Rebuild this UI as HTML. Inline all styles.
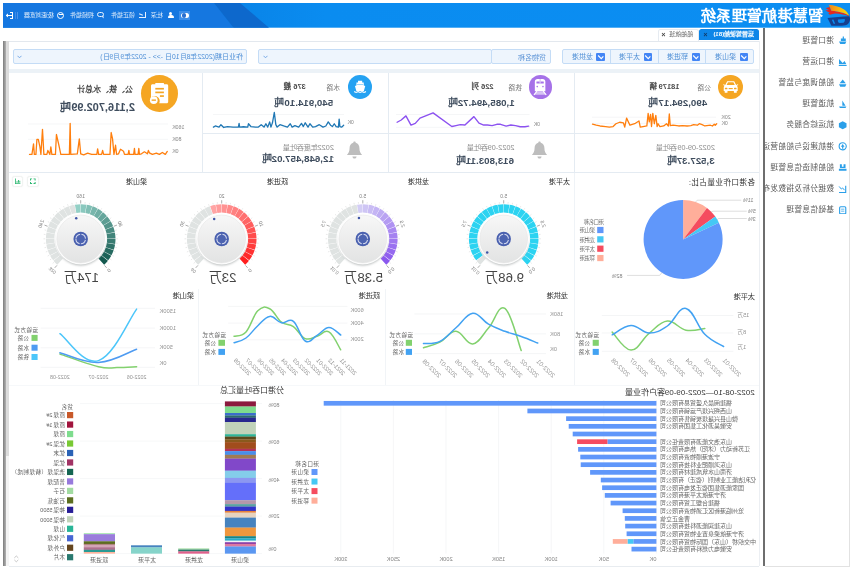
<!DOCTYPE html>
<html lang="zh-CN">
<head>
<meta charset="utf-8">
<title>智慧港航管理系统</title>
<style>
html,body{margin:0;padding:0;background:#fff;}
body{width:854px;height:574px;overflow:hidden;font-family:"Liberation Sans", sans-serif;}
#root{position:relative;width:854px;height:574px;overflow:hidden;background:#fff;transform:scaleX(-1);transform-origin:50% 50%;font-family:"Liberation Sans", sans-serif;filter:blur(0.5px);}
#root div{box-sizing:border-box;}
#charts{position:absolute;left:0;top:0;width:854px;height:574px;}
#charts text{font-family:"Liberation Sans", sans-serif;}
</style>
</head>
<body>
<div id="root">
<div style="position:absolute;left:4px;top:3px;width:847px;height:24.7px;overflow:hidden;"><svg width="847" height="24.7" style="position:absolute;left:0;top:0"><defs><linearGradient id="hg" x1="0" y1="0" x2="1" y2="0"><stop offset="0" stop-color="#0b8ef2"/><stop offset="0.62" stop-color="#0a8cf0"/><stop offset="0.71" stop-color="#0985e9"/></linearGradient></defs><rect width="847" height="24.7" fill="url(#hg)"/><polygon points="847,0 636,0 616.5,24.7 847,24.7" fill="#1577e0"/><polygon points="636,0 610,0 581,24.7 616.5,24.7" fill="#0d68cc"/></svg></div>
<div style="position:absolute;left:0px;top:2px;width:34px;height:26px;"><svg viewBox="0 0 751 574" width="34" height="26" style="display:block;transform:scaleX(-1)"><defs><linearGradient id="lg1" x1="0" y1="0" x2="1" y2="0"><stop offset="0" stop-color="#f0821c"/><stop offset="0.55" stop-color="#fab812"/><stop offset="1" stop-color="#ffd800"/></linearGradient></defs><path d="M128 140 L212 112 L250 195 C330 198 480 222 640 297 L652 318 C560 278 450 260 330 252 L215 284 L178 244 L218 238 L118 186 L196 174 Z" fill="#e32a1f"/><path d="M190 62 C300 70 430 100 540 170 C590 205 625 250 640 297 C580 255 480 222 380 207 C330 200 290 197 250 195 L225 125 Z" fill="url(#lg1)"/><path d="M165 352 C300 336 500 318 648 312 C676 362 668 432 622 482 C592 514 540 524 480 524 L252 524 Z" fill="#153f8e"/><path d="M400 384 L545 378 C556 410 545 444 520 458 L430 462 C395 452 385 415 400 384 Z" fill="#0b8cf0"/><path d="M262 392 L296 388 L336 478 L300 480 Z" fill="#0b8cf0"/><path d="M318 386 L372 382 C372 420 380 450 400 474 L352 478 Z" fill="#0b8cf0" opacity="0.0"/></svg></div>
<div style="position:absolute;top:6.9px;line-height:18px;font-size:15.3px;color:#fff;white-space:nowrap;font-weight:bold;left:30.8px;letter-spacing:0.3px;">智慧港航管理系统</div>
<div style="position:absolute;left:663.5px;top:11px;width:11.5px;height:9px;background:#3c8eea;"></div>
<div style="position:absolute;left:665.4px;top:12.6px;width:7.4px;height:5.8px;background:#fff;border-radius:3px;"></div>
<div style="position:absolute;left:668.1px;top:13.4px;width:4px;height:4.2px;background:#2a6fd0;border-radius:50%;"></div>
<div style="position:absolute;left:681.8px;top:11.9px;width:3px;height:3px;background:#fff;border-radius:50%;"></div>
<div style="position:absolute;left:680.4px;top:14.6px;width:6px;height:3.8px;background:#fff;border-radius:3px 3px 0.5px 0.5px;"></div>
<div style="position:absolute;top:11.3px;line-height:8px;font-size:6px;color:rgba(255,255,255,0.86);white-space:nowrap;left:690.6px;">杜深</div>
<div style="position:absolute;left:708px;top:12px;width:7px;height:6.4px;border-left:1px solid #e8f2ff;border-bottom:1px solid #e8f2ff;"><div style="position:absolute;left:1.5px;top:2.2px;width:4.2px;height:1px;background:#e8f2ff;transform:rotate(-22deg)"></div></div>
<div style="position:absolute;top:11.3px;line-height:8px;font-size:6px;color:rgba(255,255,255,0.86);white-space:nowrap;left:718.8px;">领正插件</div>
<div style="position:absolute;left:749.8px;top:12px;width:7px;height:5px;border:1px solid #e8f2ff;border-radius:2.5px;"></div>
<div style="position:absolute;left:750.4px;top:16.2px;width:2px;height:2.4px;background:#e8f2ff;clip-path:polygon(0 0,100% 0,0 100%);"></div>
<div style="position:absolute;top:11.3px;line-height:8px;font-size:6px;color:rgba(255,255,255,0.86);white-space:nowrap;left:759.6px;">视频插件</div>
<div style="position:absolute;left:790px;top:11.7px;width:7px;height:7px;border:1.6px solid #fff;border-radius:50%;"><div style="position:absolute;left:0.4px;top:1.3px;width:3.4px;height:1.2px;background:#fff"></div></div>
<div style="position:absolute;top:11.25px;line-height:8.1px;font-size:6.1px;color:rgba(255,255,255,0.86);white-space:nowrap;left:800px;">极速浏览器</div>
<div style="position:absolute;left:835.6px;top:12px;width:0.9px;height:6.8px;background:#4b92e8;"></div>
<div style="position:absolute;left:837.5px;top:12px;width:0.9px;height:6.8px;background:#3f8ae6;"></div>
<div style="position:absolute;left:840.8px;top:11.9px;width:3.2px;height:7px;border:1.1px solid #fff;border-right:none;"></div>
<div style="position:absolute;left:842.4px;top:14.9px;width:4px;height:1.1px;background:#fff;"></div>
<div style="position:absolute;left:845.6px;top:13.1px;width:2.8px;height:4.6px;background:#fff;clip-path:polygon(0 0,100% 50%,0 100%);"></div>
<div style="position:absolute;left:88.7px;top:27.7px;width:2.2px;height:538.5px;background:#6e6e6e;"></div>
<div style="position:absolute;left:4.2px;top:27.7px;width:84.5px;height:538.9px;border-left:1px solid #e2e2e2;border-bottom:1px solid #e2e2e2;"></div>
<div style="position:absolute;left:7.4px;top:36.4px;width:8.6px;height:8.6px;"><svg viewBox="0 0 7 7" width="8.6" height="8.6" fill="#2a9fe9" style="display:block"><path d="M1 2 h4 v2 h-4z M0.5 4.5 h6 l-1 2 h-4z M2.5 0.5 h1 v1.5 h-1z"/></svg></div>
<div style="position:absolute;left:20px;top:34.7px;width:68.5px;height:12px;overflow:hidden;"><div style="position:absolute;left:0;top:0;line-height:12px;font-size:7.7px;color:#5a5a5a;white-space:nowrap">港口管理</div></div>
<div style="position:absolute;left:7.4px;top:57.56px;width:8.6px;height:8.6px;"><svg viewBox="0 0 7 7" width="8.6" height="8.6" fill="#2a9fe9" style="display:block"><path d="M0.5 5 L2 2.5 L3.5 4 L6.5 0.8 V5z M0.3 5.6 h6.4 v1 h-6.4z"/></svg></div>
<div style="position:absolute;left:20px;top:55.86px;width:68.5px;height:12px;overflow:hidden;"><div style="position:absolute;left:0;top:0;line-height:12px;font-size:7.7px;color:#5a5a5a;white-space:nowrap">港口运营</div></div>
<div style="position:absolute;left:7.4px;top:78.72px;width:8.6px;height:8.6px;"><svg viewBox="0 0 7 7" width="8.6" height="8.6" fill="#2a9fe9" style="display:block"><path d="M3.5 0.5 L6 3.5 H1z M0.5 4.2 h6 l-1 2.2 h-4z"/></svg></div>
<div style="position:absolute;left:20px;top:77.02px;width:68.5px;height:12px;overflow:hidden;"><div style="position:absolute;left:0;top:0;line-height:12px;font-size:7.7px;color:#5a5a5a;white-space:nowrap">船舶调度与监管</div></div>
<div style="position:absolute;left:7.4px;top:99.88px;width:8.6px;height:8.6px;"><svg viewBox="0 0 7 7" width="8.6" height="8.6" fill="#2a9fe9" style="display:block"><path d="M3.8 0.5 V4.6 H1.2z M0.5 5.2 h6 l-0.8 1.5 h-4.4z"/></svg></div>
<div style="position:absolute;left:20px;top:98.18px;width:68.5px;height:12px;overflow:hidden;"><div style="position:absolute;left:0;top:0;line-height:12px;font-size:7.7px;color:#5a5a5a;white-space:nowrap">航道管理</div></div>
<div style="position:absolute;left:7.4px;top:121.04px;width:8.6px;height:8.6px;"><svg viewBox="0 0 7 7" width="8.6" height="8.6" fill="#2a9fe9" style="display:block"><path d="M3.5 0.3 L6.6 1.9 V5.1 L3.5 6.7 L0.4 5.1 V1.9z"/></svg></div>
<div style="position:absolute;left:20px;top:119.34px;width:68.5px;height:12px;overflow:hidden;"><div style="position:absolute;left:0;top:0;line-height:12px;font-size:7.7px;color:#5a5a5a;white-space:nowrap">航运综合服务</div></div>
<div style="position:absolute;left:7.4px;top:142.2px;width:8.6px;height:8.6px;"><svg viewBox="0 0 7 7" width="8.6" height="8.6" fill="#2a9fe9" style="display:block"><circle cx="3.5" cy="3.5" r="2.9" fill="none" stroke="#2a9fe9" stroke-width="0.9"/><path d="M3.5 1.6 L5 3.9 H2z M3 3.8 h1 v1.6 h-1z"/></svg></div>
<div style="position:absolute;left:20px;top:140.5px;width:68.5px;height:12px;overflow:hidden;"><div style="position:absolute;left:0;top:0;line-height:12px;font-size:7.7px;color:#5a5a5a;white-space:nowrap">港航建设与船舶营运</div></div>
<div style="position:absolute;left:7.4px;top:163.36px;width:8.6px;height:8.6px;"><svg viewBox="0 0 7 7" width="8.6" height="8.6" fill="#2a9fe9" style="display:block"><path d="M1.2 1 h1.6 v2 h1.4 v-2 h1.6 v3 h-4.6z M0.4 4.6 h6.2 v1.8 h-6.2z"/></svg></div>
<div style="position:absolute;left:20px;top:161.66px;width:68.5px;height:12px;overflow:hidden;"><div style="position:absolute;left:0;top:0;line-height:12px;font-size:7.7px;color:#5a5a5a;white-space:nowrap">船舶制造信息管理</div></div>
<div style="position:absolute;left:7.4px;top:184.52px;width:8.6px;height:8.6px;"><svg viewBox="0 0 7 7" width="8.6" height="8.6" fill="#2a9fe9" style="display:block"><path d="M0.6 0.6 h0.9 v5 h5 v0.9 h-5.9z" /><path d="M2 4.2 L3.6 2.4 L4.6 3.3 L6.4 1.2" fill="none" stroke="#2a9fe9" stroke-width="0.8"/></svg></div>
<div style="position:absolute;left:20px;top:182.82px;width:68.5px;height:12px;overflow:hidden;"><div style="position:absolute;left:0;top:0;line-height:12px;font-size:7.7px;color:#5a5a5a;white-space:nowrap">数据分析及指数发布</div></div>
<div style="position:absolute;left:7.4px;top:205.68px;width:8.6px;height:8.6px;"><svg viewBox="0 0 7 7" width="8.6" height="8.6" fill="#2a9fe9" style="display:block"><rect x="1" y="0.6" width="5" height="5.8" rx="0.8" fill="none" stroke="#2a9fe9" stroke-width="0.9"/><path d="M2.2 2.2 h2.6 v0.7 h-2.6z M2.2 3.8 h2.6 v0.7 h-2.6z"/></svg></div>
<div style="position:absolute;left:20px;top:203.98px;width:68.5px;height:12px;overflow:hidden;"><div style="position:absolute;left:0;top:0;line-height:12px;font-size:7.7px;color:#5a5a5a;white-space:nowrap">基础信息管理</div></div>
<div style="position:absolute;left:94.2px;top:40.6px;width:751.3px;height:0.8px;background:#e3e8ee;"></div>
<div style="position:absolute;left:94px;top:41px;width:0.8px;height:525px;background:#eceff3;"></div>
<div style="position:absolute;left:848.4px;top:41.2px;width:2.6px;height:524.8px;background:linear-gradient(to left,#7c7c7c,#b4b4b4);"></div>
<div style="position:absolute;left:845.4px;top:41.2px;width:3px;height:414.8px;background:#dcdcdc;"></div>
<div style="position:absolute;left:845.4px;top:456px;width:3px;height:110px;background:#f4f4f4;"></div>
<div style="position:absolute;left:95.1px;top:28.9px;width:59.7px;height:11.3px;background:#0e86e8;border-radius:2.5px 2.5px 0 0;"></div>
<div style="position:absolute;top:30.35px;line-height:8.1px;font-size:6.1px;color:#fff;white-space:nowrap;font-weight:bold;left:99.8px;">运营驾驶舱(81)</div>
<div style="position:absolute;top:29.9px;line-height:9px;font-size:7px;color:#123a66;white-space:nowrap;font-weight:bold;left:146.4px;">×</div>
<div style="position:absolute;left:154.8px;top:29.2px;width:41.5px;height:11.8px;border:1px solid #e6ebf1;border-bottom:none;border-radius:2.5px 2.5px 0 0;background:#fff;"></div>
<div style="position:absolute;top:30.65px;line-height:7.9px;font-size:5.9px;color:#666;white-space:nowrap;left:160.6px;">船舶航班</div>
<div style="position:absolute;top:30.1px;line-height:9px;font-size:7px;color:#444;white-space:nowrap;font-weight:bold;left:188.4px;">×</div>
<div style="position:absolute;left:100px;top:49.2px;width:191.5px;height:15.1px;background:#eef5fd;border:1px solid #c4dcf6;border-radius:2px;"></div>
<div style="position:absolute;left:105.9px;top:52.5px;width:8.3px;height:8.3px;background:#4385f5;border-radius:1px;"><svg viewBox="0 0 8 8" width="8.3" height="8.3" style="display:block"><path d="M1.6 3.2 L3.6 5.4 L6.6 2.4" fill="none" stroke="#fff" stroke-width="1.1"/></svg></div>
<div style="position:absolute;top:53.15px;line-height:8.9px;font-size:6.9px;color:#4f8fd6;white-space:nowrap;left:118px;">梁山港</div>
<div style="position:absolute;left:147.7px;top:49.2px;width:0.8px;height:15.1px;background:#c4dcf6;"></div>
<div style="position:absolute;left:154px;top:52.5px;width:8.3px;height:8.3px;background:#4385f5;border-radius:1px;"><svg viewBox="0 0 8 8" width="8.3" height="8.3" style="display:block"><path d="M1.6 3.2 L3.6 5.4 L6.6 2.4" fill="none" stroke="#fff" stroke-width="1.1"/></svg></div>
<div style="position:absolute;top:53.15px;line-height:8.9px;font-size:6.9px;color:#4f8fd6;white-space:nowrap;left:166.1px;">郓进港</div>
<div style="position:absolute;left:195.4px;top:49.2px;width:0.8px;height:15.1px;background:#c4dcf6;"></div>
<div style="position:absolute;left:201.7px;top:52.5px;width:8.3px;height:8.3px;background:#4385f5;border-radius:1px;"><svg viewBox="0 0 8 8" width="8.3" height="8.3" style="display:block"><path d="M1.6 3.2 L3.6 5.4 L6.6 2.4" fill="none" stroke="#fff" stroke-width="1.1"/></svg></div>
<div style="position:absolute;top:53.15px;line-height:8.9px;font-size:6.9px;color:#4f8fd6;white-space:nowrap;left:213.8px;">太平港</div>
<div style="position:absolute;left:243px;top:49.2px;width:0.8px;height:15.1px;background:#c4dcf6;"></div>
<div style="position:absolute;left:249.3px;top:52.5px;width:8.3px;height:8.3px;background:#4385f5;border-radius:1px;"><svg viewBox="0 0 8 8" width="8.3" height="8.3" style="display:block"><path d="M1.6 3.2 L3.6 5.4 L6.6 2.4" fill="none" stroke="#fff" stroke-width="1.1"/></svg></div>
<div style="position:absolute;top:53.15px;line-height:8.9px;font-size:6.9px;color:#4f8fd6;white-space:nowrap;left:261.4px;">龙拱港</div>
<div style="position:absolute;left:302.6px;top:49.2px;width:60.2px;height:15.1px;background:#eef5fd;border:1px solid #c4dcf6;border-radius:2px;"></div>
<div style="position:absolute;top:53.1px;line-height:9px;font-size:7px;color:#5b93d6;white-space:nowrap;left:307.6px;">货物名称</div>
<div style="position:absolute;left:362.4px;top:49.2px;width:233.2px;height:15.1px;background:#eef5fd;border:1px solid #c4dcf6;border-radius:2px;"></div>
<svg style="position:absolute;left:586px;top:55px" width="5" height="4" viewBox="0 0 5 4"><path d="M0.5 0.8 L2.5 2.8 L4.5 0.8" fill="none" stroke="#6aa2e4" stroke-width="0.9"/></svg>
<div style="position:absolute;left:606.8px;top:49.2px;width:233.8px;height:15.1px;background:#eef5fd;border:1px solid #c4dcf6;border-radius:2px;"></div>
<div style="position:absolute;top:53.05px;line-height:8.9px;font-size:6.9px;color:#4f8fd6;white-space:nowrap;left:611px;">作业日期(2022年8月10日 ->> - 2022年9月9日)</div>
<svg style="position:absolute;left:831.5px;top:55px" width="5" height="4" viewBox="0 0 5 4"><path d="M0.5 0.8 L2.5 2.8 L4.5 0.8" fill="none" stroke="#6aa2e4" stroke-width="0.9"/></svg>
<div style="position:absolute;left:94.6px;top:69.2px;width:750.8px;height:4px;background:#ecf2f7;"></div>
<div style="position:absolute;left:94.6px;top:133.3px;width:557px;height:0.8px;background:#e4ebf2;"></div>
<div style="position:absolute;left:94.6px;top:171.8px;width:750.8px;height:0.8px;background:#e4ebf2;"></div>
<div style="position:absolute;left:278.8px;top:73.2px;width:0.8px;height:99px;background:#e4ebf2;"></div>
<div style="position:absolute;left:464.9px;top:73.2px;width:0.8px;height:99px;background:#e4ebf2;"></div>
<div style="position:absolute;left:651.2px;top:73.2px;width:0.8px;height:99px;background:#e4ebf2;"></div>
<div style="position:absolute;left:111.1px;top:74.5px;width:24.6px;height:24.6px;background:#f5a623;border-radius:50%;"><svg viewBox="0 0 24 24" width="24.6" height="24.6" style="display:block" fill="#fff"><path fill-rule="evenodd" d="M8.6 6.1 h6.8 l1.900 3.600 l1.700 -0.700 l0.400 0.800 l-1.500 0.800 c0.600 0.400 0.900 1 0.900 1.700 v3.300 h-13.600 v-3.300 c0 -0.700 0.300 -1.300 0.900 -1.700 l-1.500 -0.800 l0.400 -0.800 l1.700 0.700z M9.300 7.100 l-1.300 2.600 h8 l-1.300 -2.600z"/><rect x="6.100" y="15.200" width="2.800" height="2.100" rx="0.500"/><rect x="15.100" y="15.200" width="2.800" height="2.100" rx="0.500"/><rect x="6.300" y="12.500" width="2.500" height="1.300" rx="0.500" fill="#f5a623"/><rect x="15.200" y="12.500" width="2.500" height="1.300" rx="0.500" fill="#f5a623"/><rect x="10" y="12.700" width="4" height="1.100" fill="#f5a623"/></svg></div>
<div style="position:absolute;top:84.2px;line-height:7px;font-size:6.7px;color:#7a7a7a;white-space:nowrap;left:143.4px;">公路</div>
<div style="position:absolute;top:82.3px;line-height:9px;font-size:7.5px;color:#4a4a4a;white-space:nowrap;font-weight:bold;left:174.5px;">18179 辆</div>
<div style="position:absolute;top:97.1px;line-height:11px;font-size:9.75px;color:#3f4d5e;white-space:nowrap;font-weight:bold;left:146.8px;">490,294.17吨</div>
<div style="position:absolute;top:143px;line-height:9px;font-size:7.35px;color:#8c8c8c;white-space:nowrap;left:139.1px;">2022-09-09吞吐量</div>
<div style="position:absolute;top:154.8px;line-height:11px;font-size:9.75px;color:#3f4d5e;white-space:nowrap;font-weight:bold;left:139.3px;">3,527.37吨</div>
<div style="position:absolute;left:301.7px;top:75.4px;width:23.8px;height:23.8px;background:#a672e8;border-radius:50%;"><svg viewBox="0 0 24 24" width="23.8" height="23.8" style="display:block" fill="#fff"><path d="M9.400 4 h5.200 c1.600 0 2.700 1.100 2.700 2.700 v9.600 h-10.600 v-9.600 c0 -1.600 1.100 -2.700 2.700 -2.700z"/><rect x="8.300" y="6.600" width="3.200" height="2" rx="0.300" fill="#a672e8"/><rect x="12.500" y="6.600" width="3.200" height="2" rx="0.300" fill="#a672e8"/><rect x="11.800" y="4" width="0.500" height="5" fill="#a672e8"/><circle cx="9.100" cy="11.700" r="0.800" fill="#a672e8"/><circle cx="14.900" cy="11.700" r="0.800" fill="#a672e8"/><polygon points="8.800,16.300 15.200,16.300 18,20 6,20" fill="#d6c2f4"/><path d="M8.900 16.300 L5.800 20 M15.100 16.300 L18.200 20" stroke="#fff" stroke-width="1.100" fill="none"/></svg></div>
<div style="position:absolute;top:84.2px;line-height:7px;font-size:6.7px;color:#7a7a7a;white-space:nowrap;left:332.3px;">铁路</div>
<div style="position:absolute;top:82.4px;line-height:9px;font-size:7.5px;color:#4a4a4a;white-space:nowrap;font-weight:bold;left:360.4px;">226 列</div>
<div style="position:absolute;top:96.5px;line-height:11px;font-size:9.75px;color:#3f4d5e;white-space:nowrap;font-weight:bold;left:339.3px;">1,085,494.72吨</div>
<div style="position:absolute;left:306.3px;top:141.2px;width:17px;height:18.9px;"><svg viewBox="0 0 18 20" width="17" height="18.900" style="display:block" fill="#bdbdbd"><path d="M9 0.600 c0.800 0 1.300 0.600 1.300 1.300 c2.600 0.700 3.900 2.900 3.900 5.600 c0 3.600 1 5.400 2.800 7.400 h-16 c1.800 -2 2.800 -3.800 2.800 -7.400 c0 -2.700 1.300 -4.900 3.900 -5.600 c0 -0.700 0.500 -1.300 1.300 -1.300z"/><path d="M6.800 16.400 h4.400 c0 1.300 -1 2.200 -2.200 2.200 s-2.200 -0.900 -2.200 -2.200z"/></svg></div>
<div style="position:absolute;top:143px;line-height:9px;font-size:7.35px;color:#8c8c8c;white-space:nowrap;left:339.4px;">2022-09吞吐量</div>
<div style="position:absolute;top:155px;line-height:11px;font-size:9.75px;color:#3f4d5e;white-space:nowrap;font-weight:bold;left:340px;">613,803.11吨</div>
<div style="position:absolute;left:482.4px;top:74.8px;width:23.8px;height:23.8px;background:#25a2f2;border-radius:50%;"><svg viewBox="0 0 24 24" width="23.8" height="23.8" style="display:block" fill="#fff"><path d="M9.900 5.800 h4.200 v1.700 h1.600 v3.100 l1.500 0.600 l-1.400 5 h-7.600 l-1.400 -5 l1.500 -0.600 v-3.100 h1.600z"/><rect x="8.900" y="9.400" width="6.200" height="0.700" fill="#6cc2f6"/><path d="M6 16.800 c1 0 1 0.700 2 0.700 s1 -0.700 2 -0.700 s1 0.700 2 0.700 s1 -0.700 2 -0.700 s1 0.700 2 0.700 s1 -0.700 2 -0.700" fill="none" stroke="#fff" stroke-width="1.100"/></svg></div>
<div style="position:absolute;top:84.2px;line-height:7px;font-size:6.7px;color:#7a7a7a;white-space:nowrap;left:513.8px;">水路</div>
<div style="position:absolute;top:82.4px;line-height:9px;font-size:7.5px;color:#4a4a4a;white-space:nowrap;font-weight:bold;left:548.2px;">376 艘</div>
<div style="position:absolute;top:97.1px;line-height:11px;font-size:9.75px;color:#3f4d5e;white-space:nowrap;font-weight:bold;left:520.8px;">540,914.10吨</div>
<div style="position:absolute;left:490.6px;top:141.2px;width:17px;height:18.9px;"><svg viewBox="0 0 18 20" width="17" height="18.900" style="display:block" fill="#bdbdbd"><path d="M9 0.600 c0.800 0 1.300 0.600 1.300 1.300 c2.600 0.700 3.900 2.900 3.900 5.600 c0 3.600 1 5.400 2.800 7.400 h-16 c1.800 -2 2.800 -3.800 2.800 -7.400 c0 -2.700 1.300 -4.900 3.900 -5.600 c0 -0.700 0.500 -1.300 1.300 -1.300z"/><path d="M6.800 16.400 h4.400 c0 1.300 -1 2.200 -2.200 2.200 s-2.200 -0.900 -2.200 -2.200z"/></svg></div>
<div style="position:absolute;top:143px;line-height:9px;font-size:7.35px;color:#8c8c8c;white-space:nowrap;left:520.1px;">2022年度吞吐量</div>
<div style="position:absolute;top:153.2px;line-height:11px;font-size:9.75px;color:#3f4d5e;white-space:nowrap;font-weight:bold;left:520.1px;">12,648,457.02吨</div>
<div style="position:absolute;left:676.1px;top:75.4px;width:36.8px;height:36.8px;background:#f5a623;border-radius:50%;"><svg viewBox="0 0 24 24" width="36.8" height="36.8" style="display:block;transform:scaleX(-1)" fill="#fff"><path d="M7.4 6 h1.8 v-0.8 h5.6 v0.8 h1.8 c0.600 0 1 0.400 1 1 v10.400 c0 0.600 -0.400 1 -1 1 h-4.800 c0.700 -1.600 0.200 -3.600 -1.600 -4.400 c-1.200 -0.500 -2.600 -0.300 -3.800 0.600 v-7.600 c0 -0.600 0.400 -1 1 -1z"/><rect x="9.2" y="8.400" width="5.6" height="1.100" fill="#f5a623"/><rect x="9.2" y="10.800" width="5.6" height="1.100" fill="#f5a623"/><rect x="12.200" y="13.200" width="2.600" height="1.100" fill="#f5a623"/><circle cx="8.200" cy="16.400" r="2.500"/><rect x="6.800" y="15.950" width="2.800" height="0.900" fill="#f5a623"/></svg></div>
<div style="position:absolute;top:84.8px;line-height:9px;font-size:7.9px;color:#444;white-space:nowrap;font-weight:bold;left:721px;">公、铁、水总计</div>
<div style="position:absolute;top:101.4px;line-height:12px;font-size:11px;color:#3f4d5e;white-space:nowrap;font-weight:bold;left:719.1px;">2,116,702.99吨</div>
<div style="position:absolute;left:278.8px;top:172.6px;width:0.8px;height:116.4px;background:#eff3f7;"></div>
<div style="position:absolute;top:177.5px;line-height:9.6px;font-size:7.6px;color:#333;white-space:nowrap;left:99.1px;">各港口作业量占比:</div>
<div style="position:absolute;top:177.3px;line-height:9px;font-size:7px;color:#2b2b2b;white-space:nowrap;left:283.8px;">太平港</div>
<div style="position:absolute;top:177.3px;line-height:9px;font-size:7px;color:#2b2b2b;white-space:nowrap;left:424.7px;">龙拱港</div>
<div style="position:absolute;top:177.3px;line-height:9px;font-size:7px;color:#2b2b2b;white-space:nowrap;left:565.8px;">跃进港</div>
<div style="position:absolute;top:177.3px;line-height:9px;font-size:7px;color:#2b2b2b;white-space:nowrap;left:706.8px;">梁山港</div>
<div style="position:absolute;left:830.6px;top:176px;width:11.6px;height:11.2px;border:1px solid #f1f3f1;border-radius:2.5px;background:#fff;box-shadow:0 0 1.5px rgba(0,0,0,0.06);"></div>
<div style="position:absolute;left:814.8px;top:176px;width:12px;height:11.2px;border:1px solid #f1f3f1;border-radius:2.5px;background:#fff;box-shadow:0 0 1.5px rgba(0,0,0,0.06);"></div>
<svg style="position:absolute;left:833.2px;top:178.400px;transform:scaleX(-1)" width="6.4" height="6.4" viewBox="0 0 8 8" fill="#2eb872"><path d="M0.5 0.5 h1 v6 h6 v1 h-7z M2.400 4 h1.200 v2 h-1.200z M4.200 2.600 h1.200 v3.400 h-1.200z M6 3.400 h1.200 v2.600 h-1.200z"/></svg>
<svg style="position:absolute;left:817.6px;top:178.400px" width="6.4" height="6.4" viewBox="0 0 8 8" fill="#2eb872"><path d="M0.5 0.5 h2.600 v1.200 h-1.400 v1.400 h-1.200z M7.500 0.500 v2.600 h-1.200 v-1.400 h-1.400 v-1.200z M0.500 7.500 v-2.600 h1.200 v1.400 h1.400 v1.200z M7.500 7.500 h-2.600 v-1.200 h1.400 v-1.400 h1.200z"/></svg>
<div style="position:absolute;left:278.8px;top:289.4px;width:0.8px;height:95.6px;background:#f1f4f7;"></div>
<div style="position:absolute;left:468.4px;top:289.4px;width:0.8px;height:95.6px;background:#f1f4f7;"></div>
<div style="position:absolute;left:655.2px;top:289.4px;width:0.8px;height:95.6px;background:#f1f4f7;"></div>
<div style="position:absolute;left:94.6px;top:385px;width:750.8px;height:0.8px;background:#f6f8fa;"></div>
<div style="position:absolute;top:292.2px;line-height:9.4px;font-size:7.4px;color:#333;white-space:nowrap;left:99.3px;">太平港</div>
<div style="position:absolute;top:291.3px;line-height:9.4px;font-size:7.4px;color:#333;white-space:nowrap;left:285.7px;">龙拱港</div>
<div style="position:absolute;top:291.3px;line-height:9.4px;font-size:7.4px;color:#333;white-space:nowrap;left:473.9px;">跃进港</div>
<div style="position:absolute;top:291.3px;line-height:9.4px;font-size:7.4px;color:#333;white-space:nowrap;left:659.6px;">梁山港</div>
<div style="position:absolute;left:94.6px;top:565.6px;width:750.8px;height:0.8px;background:#e8ecf0;"></div>
<div style="position:absolute;top:388.3px;line-height:10px;font-size:8px;color:#333;white-space:nowrap;left:99.3px;">2022-08-10—2022-09-09客户作业量</div>
<div style="position:absolute;top:385.72px;line-height:9.95px;font-size:7.95px;color:#333;white-space:nowrap;left:569.9px;">分港口吞吐量汇总</div>
<svg id="charts" width="854" height="574" viewBox="0 0 854 574">
<line x1="262" y1="117.2" x2="138" y2="117.2" stroke="#eef0f2" stroke-width="0.6"/>
<line x1="262" y1="123.4" x2="138" y2="123.4" stroke="#eef0f2" stroke-width="0.6"/>
<path d="M137.29 123.74 L138.79 125.23 L139.73 124.3 L141.6 125.98 L143.47 125.23 L149.09 125.98 L151.9 124.67 L154.71 123.74 L156.59 125.23 L160.33 124.67 L163.15 125.61 L166.89 125.98 L171.58 125.61 L175.32 125.98 L180.94 125.23 L183.75 125.61 L184.69 113.99 L185.63 125.98 L187.5 123.74 L190.31 125.98 L194.06 126.55 L195.93 123.74 L196.87 126.55 L198.18 115.3 L199.68 123.74 L201.18 113.43 L202.49 126.55 L203.43 114.37 L204.74 121.86 L205.86 113.43 L207.17 125.98 L210.92 126.55 L213.73 127.11 L215.04 120.93 L219.35 123.74 L224.04 125.23 L227.41 118.11 L229.28 127.11 L230.59 122.8 L234.34 122.24 L238.09 123.74 L240.9 126.55 L244.64 127.11 L248.39 126.55 L254.01 125.98 L257.76 125.23 L261.51 124.11" fill="none" stroke="#ff7f0e" stroke-width="1.3" stroke-linejoin="round" stroke-linecap="round"/>
<text x="132.6" y="117.2" font-size="5.2" fill="#888" text-anchor="end" dominant-baseline="central">20K</text>
<text x="132.6" y="122.8" font-size="5.2" fill="#888" text-anchor="end" dominant-baseline="central">0K</text>
<line x1="458" y1="114.5" x2="324.5" y2="114.5" stroke="#eef0f2" stroke-width="0.6"/>
<line x1="458" y1="127.3" x2="324.5" y2="127.3" stroke="#eef0f2" stroke-width="0.6"/>
<path d="M325.36 126.17 L329.11 126.73 L333.79 126.73 L338.47 125.61 L343.16 125.05 L347.84 126.17 L353.46 124.3 L357.21 124.3 L361.89 125.61 L366.58 125.05 L370.32 125.05 L375.01 123.17 L380.07 116.62 L389.06 125.05 L393.74 124.67 L398.05 125.61 L402.17 126.55 L420.91 112.87 L434.02 118.11 L438.71 123.36 L443.02 125.05 L448.07 115.87 L452.76 119.99 L456.88 122.24" fill="none" stroke="#8c52f0" stroke-width="1.4" stroke-linejoin="round" stroke-linecap="round"/>
<text x="320.3" y="123.6" font-size="5.2" fill="#888" text-anchor="end" dominant-baseline="central">0K</text>
<line x1="641" y1="114.5" x2="510" y2="114.5" stroke="#eef0f2" stroke-width="0.6"/>
<line x1="641" y1="127.3" x2="510" y2="127.3" stroke="#eef0f2" stroke-width="0.6"/>
<path d="M510.36 125.23 L512.23 127.11 L514.11 126.55 L514.85 119.05 L515.6 127.11 L517.85 126.55 L519.73 123.74 L521.6 126.55 L523.47 125.23 L525.72 121.86 L528.16 125.98 L530.97 127.11 L534.71 124.67 L538.46 126.55 L541.27 127.11 L544.08 123.74 L545.96 127.11 L548.77 122.8 L550.64 126.55 L552.51 123.36 L555.32 127.11 L559.07 125.61 L561.88 127.11 L563.75 123.74 L566.56 127.11 L570.31 125.98 L574.06 124.67 L576.87 127.11 L578.18 124.67 L579.68 112.49 L581.55 122.8 L583.05 127.11 L584.36 121.86 L586.24 127.11 L588.11 123.74 L589.98 127.11 L592.79 124.67 L595.6 127.11 L598.41 127.11 L603.1 126.55 L605.53 123.74 L606.28 127.11 L610.59 126.73 L614.34 127.11 L614.9 123.36 L615.65 127.11 L620.9 127.11 L626.52 126.55 L630.26 127.48 L633.07 124.67 L634.95 127.11 L638.7 125.98 L640.57 127.11" fill="none" stroke="#1f77b4" stroke-width="1.3" stroke-linejoin="round" stroke-linecap="round"/>
<text x="506.6" y="122.4" font-size="5.2" fill="#888" text-anchor="end" dominant-baseline="central">0K</text>
<line x1="826" y1="124" x2="686" y2="124" stroke="#eef0f2" stroke-width="0.6"/>
<line x1="826" y1="139.3" x2="686" y2="139.3" stroke="#eef0f2" stroke-width="0.6"/>
<line x1="826" y1="154.8" x2="686" y2="154.8" stroke="#eef0f2" stroke-width="0.6"/>
<path d="M686.69 151.43 L688.68 154.41 L691.67 152.42 L694.65 154.41 L697.64 153.22 L701.62 154.41 L704.61 152.82 L705.6 150.43 L706.6 153.82 L709.58 151.83 L712.57 153.82 L714.56 154.41 L715.16 148.44 L715.95 154.41 L718.94 154.41 L719.54 148.44 L720.33 154.41 L724.51 154.41 L725.11 150.43 L725.91 154.41 L729.49 154.41 L730.49 151.23 L733.47 149.24 L735.46 153.82 L737.45 154.41 L738.45 145.26 L740.04 154.41 L741.44 138.89 L742.83 132.52 L744.02 154.41 L750.39 154.41 L751.39 150.43 L752.38 154.41 L755.37 154.41 L756.36 148.84 L757.16 154.41 L762.34 154.41 L766.32 153.22 L770.3 154.81 L773.29 153.82 L774.68 138.89 L776.67 153.82 L783.24 154.41 L783.84 123.36 L784.63 154.41 L793.19 154.41 L795.18 144.86 L797.57 134.51 L798.57 154.41 L802.15 154.41 L803.15 146.85 L804.14 154.41 L806.13 150.43 L807.13 154.41 L810.11 154.41 L811.51 129.33 L813.1 154.41 L814.09 146.85 L815.69 139.29 L817.08 139.29 L818.07 154.41 L819.67 154.41 L820.46 143.86 L822.06 154.41 L824.44 154.41" fill="none" stroke="#ff7f0e" stroke-width="1.3" stroke-linejoin="round" stroke-linecap="round"/>
<text x="681.9" y="126.6" font-size="5.3" fill="#888" text-anchor="end" dominant-baseline="central">160K</text>
<text x="681.9" y="138.8" font-size="5.3" fill="#888" text-anchor="end" dominant-baseline="central">80K</text>
<text x="681.9" y="151" font-size="5.3" fill="#888" text-anchor="end" dominant-baseline="central">0K</text>
<path d="M170.9 239.4 L170.9 199.9 A39.5 39.5 0 0 0 147.02 207.94 Z" fill="#ffae9a"/>
<path d="M170.9 239.4 L147.02 207.94 A39.5 39.5 0 0 0 138.7 216.52 Z" fill="#f54c5f"/>
<path d="M170.9 239.4 L138.7 216.52 A39.5 39.5 0 0 0 135.1 222.71 Z" fill="#45c8f4"/>
<path d="M170.9 239.4 L135.1 222.71 A39.5 39.5 0 1 0 170.9 199.9 Z" fill="#6097fa"/>
<path d="M158.37 201.94 L156.8 200.2 L113.2 200.2" fill="none" stroke="#c8c8c8" stroke-width="0.6" stroke-linejoin="round" stroke-linecap="round"/>
<text x="111" y="200.4" font-size="5.4" fill="#808080" text-anchor="end" dominant-baseline="central">11%</text>
<path d="M142.58 211.86 L141 211.2 L107.6 211.2" fill="none" stroke="#c8c8c8" stroke-width="0.6" stroke-linejoin="round" stroke-linecap="round"/>
<text x="106" y="211.2" font-size="5.4" fill="#808080" text-anchor="end" dominant-baseline="central">5%</text>
<path d="M136.76 219.53 L135.4 218.5 L107.6 218.5" fill="none" stroke="#c8c8c8" stroke-width="0.6" stroke-linejoin="round" stroke-linecap="round"/>
<text x="106" y="218.6" font-size="5.4" fill="#808080" text-anchor="end" dominant-baseline="central">3%</text>
<path d="M192.12 272.71 L194.4 275.4 L226.6 275.4" fill="none" stroke="#c8c8c8" stroke-width="0.6" stroke-linejoin="round" stroke-linecap="round"/>
<text x="231.4" y="275.6" font-size="5.4" fill="#808080" text-anchor="start" dominant-baseline="central">82%</text>
<text x="249.8" y="221.8" font-size="5.4" fill="#707070" text-anchor="start" dominant-baseline="central">港口名称</text>
<rect x="250.5" y="226.9" width="6.3" height="6.2" fill="#6097fa"/>
<text x="258.8" y="230.2" font-size="5.4" fill="#707070" text-anchor="start" dominant-baseline="central">梁山港</text>
<rect x="250.5" y="236.25" width="6.3" height="6.2" fill="#45c8f4"/>
<text x="258.8" y="239.55" font-size="5.4" fill="#707070" text-anchor="start" dominant-baseline="central">龙拱港</text>
<rect x="250.5" y="245.6" width="6.3" height="6.2" fill="#f54c5f"/>
<text x="258.8" y="248.9" font-size="5.4" fill="#707070" text-anchor="start" dominant-baseline="central">太平港</text>
<rect x="250.5" y="254.95" width="6.3" height="6.2" fill="#ffae9a"/>
<text x="258.8" y="258.25" font-size="5.4" fill="#707070" text-anchor="start" dominant-baseline="central">郓进港</text>
<defs><linearGradient id="kn" x1="0" y1="0" x2="0" y2="1"><stop offset="0" stop-color="#f7f7f7"/><stop offset="1" stop-color="#e2e3e3"/></linearGradient><filter id="ksh" x="-30%" y="-30%" width="160%" height="170%"><feGaussianBlur stdDeviation="1.3"/></filter></defs>
<path d="M326.87 264.73 A34.8 34.8 0 0 1 323.06 260.65 L329.63 255.43 A26.4 26.4 0 0 0 332.52 258.52 Z" fill="#2cd3f1"/>
<path d="M322.81 260.33 A34.8 34.8 0 0 1 319.75 255.67 L327.12 251.64 A26.4 26.4 0 0 0 329.44 255.18 Z" fill="#2cd3f1"/>
<path d="M319.56 255.31 A34.8 34.8 0 0 1 317.35 250.19 L325.3 247.49 A26.4 26.4 0 0 0 326.98 251.38 Z" fill="#2cd3f1"/>
<path d="M317.22 249.81 A34.8 34.8 0 0 1 315.92 244.39 L324.22 243.09 A26.4 26.4 0 0 0 325.21 247.2 Z" fill="#2cd3f1"/>
<path d="M315.86 243.99 A34.8 34.8 0 0 1 315.5 238.42 L323.9 238.56 A26.4 26.4 0 0 0 324.17 242.78 Z" fill="#2cd3f1"/>
<path d="M315.51 238.02 A34.8 34.8 0 0 1 316.12 232.47 L324.37 234.05 A26.4 26.4 0 0 0 323.91 238.26 Z" fill="#2cd3f1"/>
<path d="M316.2 232.08 A34.8 34.8 0 0 1 317.74 226.72 L325.6 229.68 A26.4 26.4 0 0 0 324.43 233.75 Z" fill="#2cd3f1"/>
<path d="M317.88 226.34 A34.8 34.8 0 0 1 320.32 221.32 L327.56 225.59 A26.4 26.4 0 0 0 325.71 229.4 Z" fill="#2cd3f1"/>
<path d="M320.53 220.98 A34.8 34.8 0 0 1 323.79 216.45 L330.19 221.9 A26.4 26.4 0 0 0 327.72 225.33 Z" fill="#2cd3f1"/>
<path d="M324.05 216.15 A34.8 34.8 0 0 1 328.04 212.25 L333.42 218.71 A26.4 26.4 0 0 0 330.39 221.66 Z" fill="#2cd3f1"/>
<path d="M328.35 211.99 A34.8 34.8 0 0 1 332.95 208.83 L337.14 216.11 A26.4 26.4 0 0 0 333.65 218.51 Z" fill="#2cd3f1"/>
<path d="M333.3 208.63 A34.8 34.8 0 0 1 338.37 206.31 L341.25 214.2 A26.4 26.4 0 0 0 337.4 215.96 Z" fill="#2cd3f1"/>
<path d="M338.75 206.17 A34.8 34.8 0 0 1 344.14 204.75 L345.63 213.02 A26.4 26.4 0 0 0 341.54 214.1 Z" fill="#2cd3f1"/>
<path d="M344.54 204.68 A34.8 34.8 0 0 1 350.1 204.2 L350.15 212.6 A26.4 26.4 0 0 0 345.93 212.96 Z" fill="#2cd3f1"/>
<path d="M350.5 204.2 A34.8 34.8 0 0 1 356.06 204.68 L354.67 212.96 A26.4 26.4 0 0 0 350.45 212.6 Z" fill="#2cd3f1"/>
<path d="M356.46 204.75 A34.8 34.8 0 0 1 361.85 206.17 L359.06 214.1 A26.4 26.4 0 0 0 354.97 213.02 Z" fill="#2cd3f1"/>
<path d="M362.23 206.31 A34.8 34.8 0 0 1 367.3 208.63 L363.2 215.96 A26.4 26.4 0 0 0 359.35 214.2 Z" fill="#2cd3f1"/>
<path d="M367.65 208.83 A34.8 34.8 0 0 1 372.25 211.99 L366.95 218.51 A26.4 26.4 0 0 0 363.46 216.11 Z" fill="#2cd3f1"/>
<path d="M372.56 212.25 A34.8 34.8 0 0 1 376.55 216.15 L370.21 221.66 A26.4 26.4 0 0 0 367.18 218.71 Z" fill="#2cd3f1"/>
<path d="M376.81 216.45 A34.8 34.8 0 0 1 380.07 220.98 L372.88 225.33 A26.4 26.4 0 0 0 370.41 221.9 Z" fill="#2cd3f1"/>
<path d="M380.28 221.32 A34.8 34.8 0 0 1 382.72 226.34 L374.89 229.4 A26.4 26.4 0 0 0 373.04 225.59 Z" fill="#2cd3f1"/>
<path d="M382.86 226.72 A34.8 34.8 0 0 1 384.4 232.08 L376.17 233.75 A26.4 26.4 0 0 0 375 229.68 Z" fill="#2cd3f1"/>
<path d="M384.48 232.47 A34.8 34.8 0 0 1 385.09 238.02 L376.69 238.26 A26.4 26.4 0 0 0 376.23 234.05 Z" fill="#2cd3f1"/>
<path d="M385.1 238.42 A34.8 34.8 0 0 1 384.74 243.99 L376.43 242.78 A26.4 26.4 0 0 0 376.7 238.56 Z" fill="#2cd3f1"/>
<path d="M384.68 244.39 A34.8 34.8 0 0 1 383.38 249.81 L375.39 247.2 A26.4 26.4 0 0 0 376.38 243.09 Z" fill="#2cd3f1"/>
<path d="M383.25 250.19 A34.8 34.8 0 0 1 381.04 255.31 L373.62 251.38 A26.4 26.4 0 0 0 375.3 247.49 Z" fill="#2cd3f1"/>
<path d="M380.85 255.67 A34.8 34.8 0 0 1 377.79 260.33 L371.16 255.18 A26.4 26.4 0 0 0 373.48 251.64 Z" fill="#2cd3f1"/>
<path d="M377.54 260.65 A34.8 34.8 0 0 1 373.73 264.73 L368.08 258.52 A26.4 26.4 0 0 0 370.97 255.43 Z" fill="#dfe3e2"/>
<line x1="326.55" y1="265.38" x2="324.34" y2="267.83" stroke="#8a8a8a" stroke-width="0.7"/>
<line x1="323.55" y1="262.34" x2="322.27" y2="263.45" stroke="#d2d2d2" stroke-width="0.5"/>
<line x1="320.94" y1="258.95" x2="319.53" y2="259.91" stroke="#d2d2d2" stroke-width="0.5"/>
<line x1="318.75" y1="255.28" x2="317.24" y2="256.06" stroke="#d2d2d2" stroke-width="0.5"/>
<line x1="317.03" y1="251.37" x2="315.43" y2="251.97" stroke="#d2d2d2" stroke-width="0.5"/>
<line x1="315.78" y1="247.29" x2="314.13" y2="247.68" stroke="#d2d2d2" stroke-width="0.5"/>
<line x1="315.04" y1="243.08" x2="313.35" y2="243.28" stroke="#d2d2d2" stroke-width="0.5"/>
<line x1="314.8" y1="238.81" x2="313.1" y2="238.81" stroke="#d2d2d2" stroke-width="0.5"/>
<line x1="315.08" y1="234.55" x2="313.39" y2="234.34" stroke="#d2d2d2" stroke-width="0.5"/>
<line x1="315.87" y1="230.35" x2="314.22" y2="229.94" stroke="#d2d2d2" stroke-width="0.5"/>
<line x1="317.16" y1="226.28" x2="314.08" y2="225.1" stroke="#8a8a8a" stroke-width="0.7"/>
<line x1="318.93" y1="222.39" x2="317.42" y2="221.59" stroke="#d2d2d2" stroke-width="0.5"/>
<line x1="321.15" y1="218.74" x2="319.75" y2="217.77" stroke="#d2d2d2" stroke-width="0.5"/>
<line x1="323.79" y1="215.38" x2="322.53" y2="214.25" stroke="#d2d2d2" stroke-width="0.5"/>
<line x1="326.82" y1="212.37" x2="325.7" y2="211.1" stroke="#d2d2d2" stroke-width="0.5"/>
<line x1="330.19" y1="209.74" x2="329.23" y2="208.34" stroke="#d2d2d2" stroke-width="0.5"/>
<line x1="333.85" y1="207.54" x2="333.07" y2="206.03" stroke="#d2d2d2" stroke-width="0.5"/>
<line x1="337.75" y1="205.79" x2="337.15" y2="204.2" stroke="#d2d2d2" stroke-width="0.5"/>
<line x1="341.83" y1="204.52" x2="341.43" y2="202.87" stroke="#d2d2d2" stroke-width="0.5"/>
<line x1="346.04" y1="203.76" x2="345.83" y2="202.07" stroke="#d2d2d2" stroke-width="0.5"/>
<line x1="350.3" y1="203.5" x2="350.3" y2="200.2" stroke="#8a8a8a" stroke-width="0.7"/>
<line x1="354.56" y1="203.76" x2="354.77" y2="202.07" stroke="#d2d2d2" stroke-width="0.5"/>
<line x1="358.77" y1="204.52" x2="359.17" y2="202.87" stroke="#d2d2d2" stroke-width="0.5"/>
<line x1="362.85" y1="205.79" x2="363.45" y2="204.2" stroke="#d2d2d2" stroke-width="0.5"/>
<line x1="366.75" y1="207.54" x2="367.53" y2="206.03" stroke="#d2d2d2" stroke-width="0.5"/>
<line x1="370.41" y1="209.74" x2="371.37" y2="208.34" stroke="#d2d2d2" stroke-width="0.5"/>
<line x1="373.78" y1="212.37" x2="374.9" y2="211.1" stroke="#d2d2d2" stroke-width="0.5"/>
<line x1="376.81" y1="215.38" x2="378.07" y2="214.25" stroke="#d2d2d2" stroke-width="0.5"/>
<line x1="379.45" y1="218.74" x2="380.85" y2="217.77" stroke="#d2d2d2" stroke-width="0.5"/>
<line x1="381.67" y1="222.39" x2="383.18" y2="221.59" stroke="#d2d2d2" stroke-width="0.5"/>
<line x1="383.44" y1="226.28" x2="386.52" y2="225.1" stroke="#8a8a8a" stroke-width="0.7"/>
<line x1="384.73" y1="230.35" x2="386.38" y2="229.94" stroke="#d2d2d2" stroke-width="0.5"/>
<line x1="385.52" y1="234.55" x2="387.21" y2="234.34" stroke="#d2d2d2" stroke-width="0.5"/>
<line x1="385.8" y1="238.81" x2="387.5" y2="238.81" stroke="#d2d2d2" stroke-width="0.5"/>
<line x1="385.56" y1="243.08" x2="387.25" y2="243.28" stroke="#d2d2d2" stroke-width="0.5"/>
<line x1="384.82" y1="247.29" x2="386.47" y2="247.68" stroke="#d2d2d2" stroke-width="0.5"/>
<line x1="383.57" y1="251.37" x2="385.17" y2="251.97" stroke="#d2d2d2" stroke-width="0.5"/>
<line x1="381.85" y1="255.28" x2="383.36" y2="256.06" stroke="#d2d2d2" stroke-width="0.5"/>
<line x1="379.66" y1="258.95" x2="381.07" y2="259.91" stroke="#d2d2d2" stroke-width="0.5"/>
<line x1="377.05" y1="262.34" x2="378.33" y2="263.45" stroke="#d2d2d2" stroke-width="0.5"/>
<line x1="374.05" y1="265.38" x2="376.26" y2="267.83" stroke="#8a8a8a" stroke-width="0.7"/>
<text x="321.8" y="270.66" font-size="5" fill="#808080" text-anchor="middle" dominant-baseline="central" transform="rotate(-138 321.8 270.66)">0.0</text>
<text x="310.53" y="223.73" font-size="5" fill="#808080" text-anchor="middle" dominant-baseline="central" transform="rotate(-69 310.53 223.73)">2.5</text>
<text x="350.3" y="196.4" font-size="5" fill="#808080" text-anchor="middle" dominant-baseline="central" transform="rotate(0 350.3 196.4)">5.0</text>
<text x="390.07" y="223.73" font-size="5" fill="#808080" text-anchor="middle" dominant-baseline="central" transform="rotate(69 390.07 223.73)">7.5</text>
<text x="378.8" y="270.66" font-size="5" fill="#808080" text-anchor="middle" dominant-baseline="central" transform="rotate(138 378.8 270.66)">10.0</text>
<ellipse cx="350.3" cy="240.8" rx="24.6" ry="24.6" fill="#b9bdbd" filter="url(#ksh)"/>
<circle cx="350.3" cy="239" r="25.4" fill="#fdfdfd"/>
<circle cx="350.3" cy="239" r="23.9" fill="url(#kn)" stroke="#e3e3e3" stroke-width="0.5"/>
<circle cx="366.81" cy="252.45" r="1.25" fill="#3f55a6"/>
<circle cx="350.3" cy="239" r="7.25" fill="#4960af"/>
<circle cx="350.3" cy="239" r="4.8" fill="#4c63b0" stroke="#d3d9ef" stroke-width="1.05" stroke-dasharray="6.2 1.34"/>
<text x="349.4" y="277.2" font-size="13.2" fill="#444" text-anchor="middle" dominant-baseline="central">9.68万</text>
<path d="M467.77 264.73 A34.8 34.8 0 0 1 463.96 260.65 L470.53 255.43 A26.4 26.4 0 0 0 473.42 258.52 Z" fill="#8b58ee"/>
<path d="M463.71 260.33 A34.8 34.8 0 0 1 460.65 255.67 L468.02 251.64 A26.4 26.4 0 0 0 470.34 255.18 Z" fill="#9060ee"/>
<path d="M460.46 255.31 A34.8 34.8 0 0 1 458.25 250.19 L466.2 247.49 A26.4 26.4 0 0 0 467.88 251.38 Z" fill="#9569ef"/>
<path d="M458.12 249.81 A34.8 34.8 0 0 1 456.82 244.39 L465.12 243.09 A26.4 26.4 0 0 0 466.11 247.2 Z" fill="#9a71f0"/>
<path d="M456.76 243.99 A34.8 34.8 0 0 1 456.4 238.42 L464.8 238.56 A26.4 26.4 0 0 0 465.07 242.78 Z" fill="#a079f0"/>
<path d="M456.41 238.02 A34.8 34.8 0 0 1 457.02 232.47 L465.27 234.05 A26.4 26.4 0 0 0 464.81 238.26 Z" fill="#a582f0"/>
<path d="M457.1 232.08 A34.8 34.8 0 0 1 458.64 226.72 L466.5 229.68 A26.4 26.4 0 0 0 465.33 233.75 Z" fill="#aa8af1"/>
<path d="M458.78 226.34 A34.8 34.8 0 0 1 461.22 221.32 L468.46 225.59 A26.4 26.4 0 0 0 466.61 229.4 Z" fill="#af92f2"/>
<path d="M461.43 220.98 A34.8 34.8 0 0 1 464.69 216.45 L471.09 221.9 A26.4 26.4 0 0 0 468.62 225.33 Z" fill="#b49bf2"/>
<path d="M464.95 216.15 A34.8 34.8 0 0 1 468.94 212.25 L474.32 218.71 A26.4 26.4 0 0 0 471.29 221.66 Z" fill="#b9a3f2"/>
<path d="M469.25 211.99 A34.8 34.8 0 0 1 473.85 208.83 L478.04 216.11 A26.4 26.4 0 0 0 474.55 218.51 Z" fill="#beacf3"/>
<path d="M474.2 208.63 A34.8 34.8 0 0 1 479.27 206.31 L482.15 214.2 A26.4 26.4 0 0 0 478.3 215.96 Z" fill="#c4b4f4"/>
<path d="M479.65 206.17 A34.8 34.8 0 0 1 485.04 204.75 L486.53 213.02 A26.4 26.4 0 0 0 482.44 214.1 Z" fill="#c9bcf4"/>
<path d="M485.44 204.68 A34.8 34.8 0 0 1 491 204.2 L491.05 212.6 A26.4 26.4 0 0 0 486.83 212.96 Z" fill="#cec5f4"/>
<path d="M491.4 204.2 A34.8 34.8 0 0 1 496.96 204.68 L495.57 212.96 A26.4 26.4 0 0 0 491.35 212.6 Z" fill="#d3cdf5"/>
<path d="M497.36 204.75 A34.8 34.8 0 0 1 502.75 206.17 L499.96 214.1 A26.4 26.4 0 0 0 495.87 213.02 Z" fill="#dfe3e2"/>
<path d="M503.13 206.31 A34.8 34.8 0 0 1 508.2 208.63 L504.1 215.96 A26.4 26.4 0 0 0 500.25 214.2 Z" fill="#dfe3e2"/>
<path d="M508.55 208.83 A34.8 34.8 0 0 1 513.15 211.99 L507.85 218.51 A26.4 26.4 0 0 0 504.36 216.11 Z" fill="#dfe3e2"/>
<path d="M513.46 212.25 A34.8 34.8 0 0 1 517.45 216.15 L511.11 221.66 A26.4 26.4 0 0 0 508.08 218.71 Z" fill="#dfe3e2"/>
<path d="M517.71 216.45 A34.8 34.8 0 0 1 520.97 220.98 L513.78 225.33 A26.4 26.4 0 0 0 511.31 221.9 Z" fill="#dfe3e2"/>
<path d="M521.18 221.32 A34.8 34.8 0 0 1 523.62 226.34 L515.79 229.4 A26.4 26.4 0 0 0 513.94 225.59 Z" fill="#dfe3e2"/>
<path d="M523.76 226.72 A34.8 34.8 0 0 1 525.3 232.08 L517.07 233.75 A26.4 26.4 0 0 0 515.9 229.68 Z" fill="#dfe3e2"/>
<path d="M525.38 232.47 A34.8 34.8 0 0 1 525.99 238.02 L517.59 238.26 A26.4 26.4 0 0 0 517.13 234.05 Z" fill="#dfe3e2"/>
<path d="M526 238.42 A34.8 34.8 0 0 1 525.64 243.99 L517.33 242.78 A26.4 26.4 0 0 0 517.6 238.56 Z" fill="#dfe3e2"/>
<path d="M525.58 244.39 A34.8 34.8 0 0 1 524.28 249.81 L516.29 247.2 A26.4 26.4 0 0 0 517.28 243.09 Z" fill="#dfe3e2"/>
<path d="M524.15 250.19 A34.8 34.8 0 0 1 521.94 255.31 L514.52 251.38 A26.4 26.4 0 0 0 516.2 247.49 Z" fill="#dfe3e2"/>
<path d="M521.75 255.67 A34.8 34.8 0 0 1 518.69 260.33 L512.06 255.18 A26.4 26.4 0 0 0 514.38 251.64 Z" fill="#dfe3e2"/>
<path d="M518.44 260.65 A34.8 34.8 0 0 1 514.63 264.73 L508.98 258.52 A26.4 26.4 0 0 0 511.87 255.43 Z" fill="#dfe3e2"/>
<line x1="467.45" y1="265.38" x2="465.24" y2="267.83" stroke="#8a8a8a" stroke-width="0.7"/>
<line x1="464.45" y1="262.34" x2="463.17" y2="263.45" stroke="#d2d2d2" stroke-width="0.5"/>
<line x1="461.84" y1="258.95" x2="460.43" y2="259.91" stroke="#d2d2d2" stroke-width="0.5"/>
<line x1="459.65" y1="255.28" x2="458.14" y2="256.06" stroke="#d2d2d2" stroke-width="0.5"/>
<line x1="457.93" y1="251.37" x2="456.33" y2="251.97" stroke="#d2d2d2" stroke-width="0.5"/>
<line x1="456.68" y1="247.29" x2="455.03" y2="247.68" stroke="#d2d2d2" stroke-width="0.5"/>
<line x1="455.94" y1="243.08" x2="454.25" y2="243.28" stroke="#d2d2d2" stroke-width="0.5"/>
<line x1="455.7" y1="238.81" x2="454" y2="238.81" stroke="#d2d2d2" stroke-width="0.5"/>
<line x1="455.98" y1="234.55" x2="454.29" y2="234.34" stroke="#d2d2d2" stroke-width="0.5"/>
<line x1="456.77" y1="230.35" x2="455.12" y2="229.94" stroke="#d2d2d2" stroke-width="0.5"/>
<line x1="458.06" y1="226.28" x2="454.98" y2="225.1" stroke="#8a8a8a" stroke-width="0.7"/>
<line x1="459.83" y1="222.39" x2="458.32" y2="221.59" stroke="#d2d2d2" stroke-width="0.5"/>
<line x1="462.05" y1="218.74" x2="460.65" y2="217.77" stroke="#d2d2d2" stroke-width="0.5"/>
<line x1="464.69" y1="215.38" x2="463.43" y2="214.25" stroke="#d2d2d2" stroke-width="0.5"/>
<line x1="467.72" y1="212.37" x2="466.6" y2="211.1" stroke="#d2d2d2" stroke-width="0.5"/>
<line x1="471.09" y1="209.74" x2="470.13" y2="208.34" stroke="#d2d2d2" stroke-width="0.5"/>
<line x1="474.75" y1="207.54" x2="473.97" y2="206.03" stroke="#d2d2d2" stroke-width="0.5"/>
<line x1="478.65" y1="205.79" x2="478.05" y2="204.2" stroke="#d2d2d2" stroke-width="0.5"/>
<line x1="482.73" y1="204.52" x2="482.33" y2="202.87" stroke="#d2d2d2" stroke-width="0.5"/>
<line x1="486.94" y1="203.76" x2="486.73" y2="202.07" stroke="#d2d2d2" stroke-width="0.5"/>
<line x1="491.2" y1="203.5" x2="491.2" y2="200.2" stroke="#8a8a8a" stroke-width="0.7"/>
<line x1="495.46" y1="203.76" x2="495.67" y2="202.07" stroke="#d2d2d2" stroke-width="0.5"/>
<line x1="499.67" y1="204.52" x2="500.07" y2="202.87" stroke="#d2d2d2" stroke-width="0.5"/>
<line x1="503.75" y1="205.79" x2="504.35" y2="204.2" stroke="#d2d2d2" stroke-width="0.5"/>
<line x1="507.65" y1="207.54" x2="508.43" y2="206.03" stroke="#d2d2d2" stroke-width="0.5"/>
<line x1="511.31" y1="209.74" x2="512.27" y2="208.34" stroke="#d2d2d2" stroke-width="0.5"/>
<line x1="514.68" y1="212.37" x2="515.8" y2="211.1" stroke="#d2d2d2" stroke-width="0.5"/>
<line x1="517.71" y1="215.38" x2="518.97" y2="214.25" stroke="#d2d2d2" stroke-width="0.5"/>
<line x1="520.35" y1="218.74" x2="521.75" y2="217.77" stroke="#d2d2d2" stroke-width="0.5"/>
<line x1="522.57" y1="222.39" x2="524.08" y2="221.59" stroke="#d2d2d2" stroke-width="0.5"/>
<line x1="524.34" y1="226.28" x2="527.42" y2="225.1" stroke="#8a8a8a" stroke-width="0.7"/>
<line x1="525.63" y1="230.35" x2="527.28" y2="229.94" stroke="#d2d2d2" stroke-width="0.5"/>
<line x1="526.42" y1="234.55" x2="528.11" y2="234.34" stroke="#d2d2d2" stroke-width="0.5"/>
<line x1="526.7" y1="238.81" x2="528.4" y2="238.81" stroke="#d2d2d2" stroke-width="0.5"/>
<line x1="526.46" y1="243.08" x2="528.15" y2="243.28" stroke="#d2d2d2" stroke-width="0.5"/>
<line x1="525.72" y1="247.29" x2="527.37" y2="247.68" stroke="#d2d2d2" stroke-width="0.5"/>
<line x1="524.47" y1="251.37" x2="526.07" y2="251.97" stroke="#d2d2d2" stroke-width="0.5"/>
<line x1="522.75" y1="255.28" x2="524.26" y2="256.06" stroke="#d2d2d2" stroke-width="0.5"/>
<line x1="520.56" y1="258.95" x2="521.97" y2="259.91" stroke="#d2d2d2" stroke-width="0.5"/>
<line x1="517.95" y1="262.34" x2="519.23" y2="263.45" stroke="#d2d2d2" stroke-width="0.5"/>
<line x1="514.95" y1="265.38" x2="517.16" y2="267.83" stroke="#8a8a8a" stroke-width="0.7"/>
<text x="462.7" y="270.66" font-size="5" fill="#808080" text-anchor="middle" dominant-baseline="central" transform="rotate(-138 462.7 270.66)">0.0</text>
<text x="451.43" y="223.73" font-size="5" fill="#808080" text-anchor="middle" dominant-baseline="central" transform="rotate(-69 451.43 223.73)">2.5</text>
<text x="491.2" y="196.4" font-size="5" fill="#808080" text-anchor="middle" dominant-baseline="central" transform="rotate(0 491.2 196.4)">5.0</text>
<text x="530.97" y="223.73" font-size="5" fill="#808080" text-anchor="middle" dominant-baseline="central" transform="rotate(69 530.97 223.73)">7.5</text>
<text x="519.7" y="270.66" font-size="5" fill="#808080" text-anchor="middle" dominant-baseline="central" transform="rotate(138 519.7 270.66)">10.0</text>
<ellipse cx="491.2" cy="240.8" rx="24.6" ry="24.6" fill="#b9bdbd" filter="url(#ksh)"/>
<circle cx="491.2" cy="239" r="25.4" fill="#fdfdfd"/>
<circle cx="491.2" cy="239" r="23.9" fill="url(#kn)" stroke="#e3e3e3" stroke-width="0.5"/>
<circle cx="495.08" cy="218.06" r="1.25" fill="#3f55a6"/>
<circle cx="491.2" cy="239" r="7.25" fill="#4960af"/>
<circle cx="491.2" cy="239" r="4.8" fill="#4c63b0" stroke="#d3d9ef" stroke-width="1.05" stroke-dasharray="6.2 1.34"/>
<text x="490.3" y="277.2" font-size="13.2" fill="#444" text-anchor="middle" dominant-baseline="central">5.38万</text>
<path d="M608.87 264.73 A34.8 34.8 0 0 1 605.06 260.65 L611.63 255.43 A26.4 26.4 0 0 0 614.52 258.52 Z" fill="#ff1f1f"/>
<path d="M604.81 260.33 A34.8 34.8 0 0 1 601.75 255.67 L609.12 251.64 A26.4 26.4 0 0 0 611.44 255.18 Z" fill="#ff2828"/>
<path d="M601.56 255.31 A34.8 34.8 0 0 1 599.35 250.19 L607.3 247.49 A26.4 26.4 0 0 0 608.98 251.38 Z" fill="#ff3131"/>
<path d="M599.22 249.81 A34.8 34.8 0 0 1 597.92 244.39 L606.22 243.09 A26.4 26.4 0 0 0 607.21 247.2 Z" fill="#ff3a3a"/>
<path d="M597.86 243.99 A34.8 34.8 0 0 1 597.5 238.42 L605.9 238.56 A26.4 26.4 0 0 0 606.17 242.78 Z" fill="#ff4242"/>
<path d="M597.51 238.02 A34.8 34.8 0 0 1 598.12 232.47 L606.37 234.05 A26.4 26.4 0 0 0 605.91 238.26 Z" fill="#ff4b4b"/>
<path d="M598.2 232.08 A34.8 34.8 0 0 1 599.74 226.72 L607.6 229.68 A26.4 26.4 0 0 0 606.43 233.75 Z" fill="#ff5454"/>
<path d="M599.88 226.34 A34.8 34.8 0 0 1 602.32 221.32 L609.56 225.59 A26.4 26.4 0 0 0 607.71 229.4 Z" fill="#ff5d5d"/>
<path d="M602.53 220.98 A34.8 34.8 0 0 1 605.79 216.45 L612.19 221.9 A26.4 26.4 0 0 0 609.72 225.33 Z" fill="#ff6666"/>
<path d="M606.05 216.15 A34.8 34.8 0 0 1 610.04 212.25 L615.42 218.71 A26.4 26.4 0 0 0 612.39 221.66 Z" fill="#ff6f6f"/>
<path d="M610.35 211.99 A34.8 34.8 0 0 1 614.95 208.83 L619.14 216.11 A26.4 26.4 0 0 0 615.65 218.51 Z" fill="#ff7878"/>
<path d="M615.3 208.63 A34.8 34.8 0 0 1 620.37 206.31 L623.25 214.2 A26.4 26.4 0 0 0 619.4 215.96 Z" fill="#ff8181"/>
<path d="M620.75 206.17 A34.8 34.8 0 0 1 626.14 204.75 L627.63 213.02 A26.4 26.4 0 0 0 623.54 214.1 Z" fill="#ff8989"/>
<path d="M626.54 204.68 A34.8 34.8 0 0 1 632.1 204.2 L632.15 212.6 A26.4 26.4 0 0 0 627.93 212.96 Z" fill="#ff9292"/>
<path d="M632.5 204.2 A34.8 34.8 0 0 1 638.06 204.68 L636.67 212.96 A26.4 26.4 0 0 0 632.45 212.6 Z" fill="#ff9b9b"/>
<path d="M638.46 204.75 A34.8 34.8 0 0 1 643.85 206.17 L641.06 214.1 A26.4 26.4 0 0 0 636.97 213.02 Z" fill="#ffa4a4"/>
<path d="M644.23 206.31 A34.8 34.8 0 0 1 649.3 208.63 L645.2 215.96 A26.4 26.4 0 0 0 641.35 214.2 Z" fill="#dfe3e2"/>
<path d="M649.65 208.83 A34.8 34.8 0 0 1 654.25 211.99 L648.95 218.51 A26.4 26.4 0 0 0 645.46 216.11 Z" fill="#dfe3e2"/>
<path d="M654.56 212.25 A34.8 34.8 0 0 1 658.55 216.15 L652.21 221.66 A26.4 26.4 0 0 0 649.18 218.71 Z" fill="#dfe3e2"/>
<path d="M658.81 216.45 A34.8 34.8 0 0 1 662.07 220.98 L654.88 225.33 A26.4 26.4 0 0 0 652.41 221.9 Z" fill="#dfe3e2"/>
<path d="M662.28 221.32 A34.8 34.8 0 0 1 664.72 226.34 L656.89 229.4 A26.4 26.4 0 0 0 655.04 225.59 Z" fill="#dfe3e2"/>
<path d="M664.86 226.72 A34.8 34.8 0 0 1 666.4 232.08 L658.17 233.75 A26.4 26.4 0 0 0 657 229.68 Z" fill="#dfe3e2"/>
<path d="M666.48 232.47 A34.8 34.8 0 0 1 667.09 238.02 L658.69 238.26 A26.4 26.4 0 0 0 658.23 234.05 Z" fill="#dfe3e2"/>
<path d="M667.1 238.42 A34.8 34.8 0 0 1 666.74 243.99 L658.43 242.78 A26.4 26.4 0 0 0 658.7 238.56 Z" fill="#dfe3e2"/>
<path d="M666.68 244.39 A34.8 34.8 0 0 1 665.38 249.81 L657.39 247.2 A26.4 26.4 0 0 0 658.38 243.09 Z" fill="#dfe3e2"/>
<path d="M665.25 250.19 A34.8 34.8 0 0 1 663.04 255.31 L655.62 251.38 A26.4 26.4 0 0 0 657.3 247.49 Z" fill="#dfe3e2"/>
<path d="M662.85 255.67 A34.8 34.8 0 0 1 659.79 260.33 L653.16 255.18 A26.4 26.4 0 0 0 655.48 251.64 Z" fill="#dfe3e2"/>
<path d="M659.54 260.65 A34.8 34.8 0 0 1 655.73 264.73 L650.08 258.52 A26.4 26.4 0 0 0 652.97 255.43 Z" fill="#dfe3e2"/>
<line x1="608.55" y1="265.38" x2="606.34" y2="267.83" stroke="#8a8a8a" stroke-width="0.7"/>
<line x1="605.55" y1="262.34" x2="604.27" y2="263.45" stroke="#d2d2d2" stroke-width="0.5"/>
<line x1="602.94" y1="258.95" x2="601.53" y2="259.91" stroke="#d2d2d2" stroke-width="0.5"/>
<line x1="600.75" y1="255.28" x2="599.24" y2="256.06" stroke="#d2d2d2" stroke-width="0.5"/>
<line x1="599.03" y1="251.37" x2="597.43" y2="251.97" stroke="#d2d2d2" stroke-width="0.5"/>
<line x1="597.78" y1="247.29" x2="596.13" y2="247.68" stroke="#d2d2d2" stroke-width="0.5"/>
<line x1="597.04" y1="243.08" x2="595.35" y2="243.28" stroke="#d2d2d2" stroke-width="0.5"/>
<line x1="596.8" y1="238.81" x2="595.1" y2="238.81" stroke="#d2d2d2" stroke-width="0.5"/>
<line x1="597.08" y1="234.55" x2="595.39" y2="234.34" stroke="#d2d2d2" stroke-width="0.5"/>
<line x1="597.87" y1="230.35" x2="596.22" y2="229.94" stroke="#d2d2d2" stroke-width="0.5"/>
<line x1="599.16" y1="226.28" x2="596.08" y2="225.1" stroke="#8a8a8a" stroke-width="0.7"/>
<line x1="600.93" y1="222.39" x2="599.42" y2="221.59" stroke="#d2d2d2" stroke-width="0.5"/>
<line x1="603.15" y1="218.74" x2="601.75" y2="217.77" stroke="#d2d2d2" stroke-width="0.5"/>
<line x1="605.79" y1="215.38" x2="604.53" y2="214.25" stroke="#d2d2d2" stroke-width="0.5"/>
<line x1="608.82" y1="212.37" x2="607.7" y2="211.1" stroke="#d2d2d2" stroke-width="0.5"/>
<line x1="612.19" y1="209.74" x2="611.23" y2="208.34" stroke="#d2d2d2" stroke-width="0.5"/>
<line x1="615.85" y1="207.54" x2="615.07" y2="206.03" stroke="#d2d2d2" stroke-width="0.5"/>
<line x1="619.75" y1="205.79" x2="619.15" y2="204.2" stroke="#d2d2d2" stroke-width="0.5"/>
<line x1="623.83" y1="204.52" x2="623.43" y2="202.87" stroke="#d2d2d2" stroke-width="0.5"/>
<line x1="628.04" y1="203.76" x2="627.83" y2="202.07" stroke="#d2d2d2" stroke-width="0.5"/>
<line x1="632.3" y1="203.5" x2="632.3" y2="200.2" stroke="#8a8a8a" stroke-width="0.7"/>
<line x1="636.56" y1="203.76" x2="636.77" y2="202.07" stroke="#d2d2d2" stroke-width="0.5"/>
<line x1="640.77" y1="204.52" x2="641.17" y2="202.87" stroke="#d2d2d2" stroke-width="0.5"/>
<line x1="644.85" y1="205.79" x2="645.45" y2="204.2" stroke="#d2d2d2" stroke-width="0.5"/>
<line x1="648.75" y1="207.54" x2="649.53" y2="206.03" stroke="#d2d2d2" stroke-width="0.5"/>
<line x1="652.41" y1="209.74" x2="653.37" y2="208.34" stroke="#d2d2d2" stroke-width="0.5"/>
<line x1="655.78" y1="212.37" x2="656.9" y2="211.1" stroke="#d2d2d2" stroke-width="0.5"/>
<line x1="658.81" y1="215.38" x2="660.07" y2="214.25" stroke="#d2d2d2" stroke-width="0.5"/>
<line x1="661.45" y1="218.74" x2="662.85" y2="217.77" stroke="#d2d2d2" stroke-width="0.5"/>
<line x1="663.67" y1="222.39" x2="665.18" y2="221.59" stroke="#d2d2d2" stroke-width="0.5"/>
<line x1="665.44" y1="226.28" x2="668.52" y2="225.1" stroke="#8a8a8a" stroke-width="0.7"/>
<line x1="666.73" y1="230.35" x2="668.38" y2="229.94" stroke="#d2d2d2" stroke-width="0.5"/>
<line x1="667.52" y1="234.55" x2="669.21" y2="234.34" stroke="#d2d2d2" stroke-width="0.5"/>
<line x1="667.8" y1="238.81" x2="669.5" y2="238.81" stroke="#d2d2d2" stroke-width="0.5"/>
<line x1="667.56" y1="243.08" x2="669.25" y2="243.28" stroke="#d2d2d2" stroke-width="0.5"/>
<line x1="666.82" y1="247.29" x2="668.47" y2="247.68" stroke="#d2d2d2" stroke-width="0.5"/>
<line x1="665.57" y1="251.37" x2="667.17" y2="251.97" stroke="#d2d2d2" stroke-width="0.5"/>
<line x1="663.85" y1="255.28" x2="665.36" y2="256.06" stroke="#d2d2d2" stroke-width="0.5"/>
<line x1="661.66" y1="258.95" x2="663.07" y2="259.91" stroke="#d2d2d2" stroke-width="0.5"/>
<line x1="659.05" y1="262.34" x2="660.33" y2="263.45" stroke="#d2d2d2" stroke-width="0.5"/>
<line x1="656.05" y1="265.38" x2="658.26" y2="267.83" stroke="#8a8a8a" stroke-width="0.7"/>
<text x="603.8" y="270.66" font-size="5" fill="#808080" text-anchor="middle" dominant-baseline="central" transform="rotate(-138 603.8 270.66)">0</text>
<text x="592.53" y="223.73" font-size="5" fill="#808080" text-anchor="middle" dominant-baseline="central" transform="rotate(-69 592.53 223.73)">10</text>
<text x="632.3" y="196.4" font-size="5" fill="#808080" text-anchor="middle" dominant-baseline="central" transform="rotate(0 632.3 196.4)">20</text>
<text x="672.07" y="223.73" font-size="5" fill="#808080" text-anchor="middle" dominant-baseline="central" transform="rotate(69 672.07 223.73)">30</text>
<text x="660.8" y="270.66" font-size="5" fill="#808080" text-anchor="middle" dominant-baseline="central" transform="rotate(138 660.8 270.66)">40</text>
<ellipse cx="632.3" cy="240.8" rx="24.6" ry="24.6" fill="#b9bdbd" filter="url(#ksh)"/>
<circle cx="632.3" cy="239" r="25.4" fill="#fdfdfd"/>
<circle cx="632.3" cy="239" r="23.9" fill="url(#kn)" stroke="#e3e3e3" stroke-width="0.5"/>
<circle cx="639.83" cy="219.08" r="1.25" fill="#3f55a6"/>
<circle cx="632.3" cy="239" r="7.25" fill="#4960af"/>
<circle cx="632.3" cy="239" r="4.8" fill="#4c63b0" stroke="#d3d9ef" stroke-width="1.05" stroke-dasharray="6.2 1.34"/>
<text x="631.4" y="277.2" font-size="13.2" fill="#444" text-anchor="middle" dominant-baseline="central">23万</text>
<path d="M749.87 264.73 A34.8 34.8 0 0 1 746.06 260.65 L752.63 255.43 A26.4 26.4 0 0 0 755.52 258.52 Z" fill="#14594f"/>
<path d="M745.81 260.33 A34.8 34.8 0 0 1 742.75 255.67 L750.12 251.64 A26.4 26.4 0 0 0 752.44 255.18 Z" fill="#1d6258"/>
<path d="M742.56 255.31 A34.8 34.8 0 0 1 740.35 250.19 L748.3 247.49 A26.4 26.4 0 0 0 749.98 251.38 Z" fill="#266a60"/>
<path d="M740.22 249.81 A34.8 34.8 0 0 1 738.92 244.39 L747.22 243.09 A26.4 26.4 0 0 0 748.21 247.2 Z" fill="#2f7268"/>
<path d="M738.86 243.99 A34.8 34.8 0 0 1 738.5 238.42 L746.9 238.56 A26.4 26.4 0 0 0 747.17 242.78 Z" fill="#387b71"/>
<path d="M738.51 238.02 A34.8 34.8 0 0 1 739.12 232.47 L747.37 234.05 A26.4 26.4 0 0 0 746.91 238.26 Z" fill="#41847a"/>
<path d="M739.2 232.08 A34.8 34.8 0 0 1 740.74 226.72 L748.6 229.68 A26.4 26.4 0 0 0 747.43 233.75 Z" fill="#4a8c82"/>
<path d="M740.88 226.34 A34.8 34.8 0 0 1 743.32 221.32 L750.56 225.59 A26.4 26.4 0 0 0 748.71 229.4 Z" fill="#54948a"/>
<path d="M743.53 220.98 A34.8 34.8 0 0 1 746.79 216.45 L753.19 221.9 A26.4 26.4 0 0 0 750.72 225.33 Z" fill="#5d9d93"/>
<path d="M747.05 216.15 A34.8 34.8 0 0 1 751.04 212.25 L756.42 218.71 A26.4 26.4 0 0 0 753.39 221.66 Z" fill="#66a69c"/>
<path d="M751.35 211.99 A34.8 34.8 0 0 1 755.95 208.83 L760.14 216.11 A26.4 26.4 0 0 0 756.65 218.51 Z" fill="#6faea4"/>
<path d="M756.3 208.63 A34.8 34.8 0 0 1 761.37 206.31 L764.25 214.2 A26.4 26.4 0 0 0 760.4 215.96 Z" fill="#78b6ac"/>
<path d="M761.75 206.17 A34.8 34.8 0 0 1 767.14 204.75 L768.63 213.02 A26.4 26.4 0 0 0 764.54 214.1 Z" fill="#81bfb5"/>
<path d="M767.54 204.68 A34.8 34.8 0 0 1 773.1 204.2 L773.15 212.6 A26.4 26.4 0 0 0 768.93 212.96 Z" fill="#8ac8be"/>
<path d="M773.5 204.2 A34.8 34.8 0 0 1 779.06 204.68 L777.67 212.96 A26.4 26.4 0 0 0 773.45 212.6 Z" fill="#93d0c6"/>
<path d="M779.46 204.75 A34.8 34.8 0 0 1 784.85 206.17 L782.06 214.1 A26.4 26.4 0 0 0 777.97 213.02 Z" fill="#dfe3e2"/>
<path d="M785.23 206.31 A34.8 34.8 0 0 1 790.3 208.63 L786.2 215.96 A26.4 26.4 0 0 0 782.35 214.2 Z" fill="#dfe3e2"/>
<path d="M790.65 208.83 A34.8 34.8 0 0 1 795.25 211.99 L789.95 218.51 A26.4 26.4 0 0 0 786.46 216.11 Z" fill="#dfe3e2"/>
<path d="M795.56 212.25 A34.8 34.8 0 0 1 799.55 216.15 L793.21 221.66 A26.4 26.4 0 0 0 790.18 218.71 Z" fill="#dfe3e2"/>
<path d="M799.81 216.45 A34.8 34.8 0 0 1 803.07 220.98 L795.88 225.33 A26.4 26.4 0 0 0 793.41 221.9 Z" fill="#dfe3e2"/>
<path d="M803.28 221.32 A34.8 34.8 0 0 1 805.72 226.34 L797.89 229.4 A26.4 26.4 0 0 0 796.04 225.59 Z" fill="#dfe3e2"/>
<path d="M805.86 226.72 A34.8 34.8 0 0 1 807.4 232.08 L799.17 233.75 A26.4 26.4 0 0 0 798 229.68 Z" fill="#dfe3e2"/>
<path d="M807.48 232.47 A34.8 34.8 0 0 1 808.09 238.02 L799.69 238.26 A26.4 26.4 0 0 0 799.23 234.05 Z" fill="#dfe3e2"/>
<path d="M808.1 238.42 A34.8 34.8 0 0 1 807.74 243.99 L799.43 242.78 A26.4 26.4 0 0 0 799.7 238.56 Z" fill="#dfe3e2"/>
<path d="M807.68 244.39 A34.8 34.8 0 0 1 806.38 249.81 L798.39 247.2 A26.4 26.4 0 0 0 799.38 243.09 Z" fill="#dfe3e2"/>
<path d="M806.25 250.19 A34.8 34.8 0 0 1 804.04 255.31 L796.62 251.38 A26.4 26.4 0 0 0 798.3 247.49 Z" fill="#dfe3e2"/>
<path d="M803.85 255.67 A34.8 34.8 0 0 1 800.79 260.33 L794.16 255.18 A26.4 26.4 0 0 0 796.48 251.64 Z" fill="#dfe3e2"/>
<path d="M800.54 260.65 A34.8 34.8 0 0 1 796.73 264.73 L791.08 258.52 A26.4 26.4 0 0 0 793.97 255.43 Z" fill="#dfe3e2"/>
<line x1="749.55" y1="265.38" x2="747.34" y2="267.83" stroke="#8a8a8a" stroke-width="0.7"/>
<line x1="746.55" y1="262.34" x2="745.27" y2="263.45" stroke="#d2d2d2" stroke-width="0.5"/>
<line x1="743.94" y1="258.95" x2="742.53" y2="259.91" stroke="#d2d2d2" stroke-width="0.5"/>
<line x1="741.75" y1="255.28" x2="740.24" y2="256.06" stroke="#d2d2d2" stroke-width="0.5"/>
<line x1="740.03" y1="251.37" x2="738.43" y2="251.97" stroke="#d2d2d2" stroke-width="0.5"/>
<line x1="738.78" y1="247.29" x2="737.13" y2="247.68" stroke="#d2d2d2" stroke-width="0.5"/>
<line x1="738.04" y1="243.08" x2="736.35" y2="243.28" stroke="#d2d2d2" stroke-width="0.5"/>
<line x1="737.8" y1="238.81" x2="736.1" y2="238.81" stroke="#d2d2d2" stroke-width="0.5"/>
<line x1="738.08" y1="234.55" x2="736.39" y2="234.34" stroke="#d2d2d2" stroke-width="0.5"/>
<line x1="738.87" y1="230.35" x2="737.22" y2="229.94" stroke="#d2d2d2" stroke-width="0.5"/>
<line x1="740.16" y1="226.28" x2="737.08" y2="225.1" stroke="#8a8a8a" stroke-width="0.7"/>
<line x1="741.93" y1="222.39" x2="740.42" y2="221.59" stroke="#d2d2d2" stroke-width="0.5"/>
<line x1="744.15" y1="218.74" x2="742.75" y2="217.77" stroke="#d2d2d2" stroke-width="0.5"/>
<line x1="746.79" y1="215.38" x2="745.53" y2="214.25" stroke="#d2d2d2" stroke-width="0.5"/>
<line x1="749.82" y1="212.37" x2="748.7" y2="211.1" stroke="#d2d2d2" stroke-width="0.5"/>
<line x1="753.19" y1="209.74" x2="752.23" y2="208.34" stroke="#d2d2d2" stroke-width="0.5"/>
<line x1="756.85" y1="207.54" x2="756.07" y2="206.03" stroke="#d2d2d2" stroke-width="0.5"/>
<line x1="760.75" y1="205.79" x2="760.15" y2="204.2" stroke="#d2d2d2" stroke-width="0.5"/>
<line x1="764.83" y1="204.52" x2="764.43" y2="202.87" stroke="#d2d2d2" stroke-width="0.5"/>
<line x1="769.04" y1="203.76" x2="768.83" y2="202.07" stroke="#d2d2d2" stroke-width="0.5"/>
<line x1="773.3" y1="203.5" x2="773.3" y2="200.2" stroke="#8a8a8a" stroke-width="0.7"/>
<line x1="777.56" y1="203.76" x2="777.77" y2="202.07" stroke="#d2d2d2" stroke-width="0.5"/>
<line x1="781.77" y1="204.52" x2="782.17" y2="202.87" stroke="#d2d2d2" stroke-width="0.5"/>
<line x1="785.85" y1="205.79" x2="786.45" y2="204.2" stroke="#d2d2d2" stroke-width="0.5"/>
<line x1="789.75" y1="207.54" x2="790.53" y2="206.03" stroke="#d2d2d2" stroke-width="0.5"/>
<line x1="793.41" y1="209.74" x2="794.37" y2="208.34" stroke="#d2d2d2" stroke-width="0.5"/>
<line x1="796.78" y1="212.37" x2="797.9" y2="211.1" stroke="#d2d2d2" stroke-width="0.5"/>
<line x1="799.81" y1="215.38" x2="801.07" y2="214.25" stroke="#d2d2d2" stroke-width="0.5"/>
<line x1="802.45" y1="218.74" x2="803.85" y2="217.77" stroke="#d2d2d2" stroke-width="0.5"/>
<line x1="804.67" y1="222.39" x2="806.18" y2="221.59" stroke="#d2d2d2" stroke-width="0.5"/>
<line x1="806.44" y1="226.28" x2="809.52" y2="225.1" stroke="#8a8a8a" stroke-width="0.7"/>
<line x1="807.73" y1="230.35" x2="809.38" y2="229.94" stroke="#d2d2d2" stroke-width="0.5"/>
<line x1="808.52" y1="234.55" x2="810.21" y2="234.34" stroke="#d2d2d2" stroke-width="0.5"/>
<line x1="808.8" y1="238.81" x2="810.5" y2="238.81" stroke="#d2d2d2" stroke-width="0.5"/>
<line x1="808.56" y1="243.08" x2="810.25" y2="243.28" stroke="#d2d2d2" stroke-width="0.5"/>
<line x1="807.82" y1="247.29" x2="809.47" y2="247.68" stroke="#d2d2d2" stroke-width="0.5"/>
<line x1="806.57" y1="251.37" x2="808.17" y2="251.97" stroke="#d2d2d2" stroke-width="0.5"/>
<line x1="804.85" y1="255.28" x2="806.36" y2="256.06" stroke="#d2d2d2" stroke-width="0.5"/>
<line x1="802.66" y1="258.95" x2="804.07" y2="259.91" stroke="#d2d2d2" stroke-width="0.5"/>
<line x1="800.05" y1="262.34" x2="801.33" y2="263.45" stroke="#d2d2d2" stroke-width="0.5"/>
<line x1="797.05" y1="265.38" x2="799.26" y2="267.83" stroke="#8a8a8a" stroke-width="0.7"/>
<text x="744.8" y="270.66" font-size="5" fill="#808080" text-anchor="middle" dominant-baseline="central" transform="rotate(-138 744.8 270.66)">0</text>
<text x="733.53" y="223.73" font-size="5" fill="#808080" text-anchor="middle" dominant-baseline="central" transform="rotate(-69 733.53 223.73)">80</text>
<text x="773.3" y="196.4" font-size="5" fill="#808080" text-anchor="middle" dominant-baseline="central" transform="rotate(0 773.3 196.4)">160</text>
<text x="813.07" y="223.73" font-size="5" fill="#808080" text-anchor="middle" dominant-baseline="central" transform="rotate(69 813.07 223.73)">240</text>
<text x="801.8" y="270.66" font-size="5" fill="#808080" text-anchor="middle" dominant-baseline="central" transform="rotate(138 801.8 270.66)">320</text>
<ellipse cx="773.3" cy="240.8" rx="24.6" ry="24.6" fill="#b9bdbd" filter="url(#ksh)"/>
<circle cx="773.3" cy="239" r="25.4" fill="#fdfdfd"/>
<circle cx="773.3" cy="239" r="23.9" fill="url(#kn)" stroke="#e3e3e3" stroke-width="0.5"/>
<circle cx="777.78" cy="218.18" r="1.25" fill="#3f55a6"/>
<circle cx="773.3" cy="239" r="7.25" fill="#4960af"/>
<circle cx="773.3" cy="239" r="4.8" fill="#4c63b0" stroke="#d3d9ef" stroke-width="1.05" stroke-dasharray="6.2 1.34"/>
<text x="772.4" y="277.2" font-size="13.2" fill="#444" text-anchor="middle" dominant-baseline="central">174万</text>
<line x1="252.2" y1="315.5" x2="120.7" y2="315.5" stroke="#eceef0" stroke-width="0.6"/>
<line x1="252.2" y1="333" x2="120.7" y2="333" stroke="#eceef0" stroke-width="0.6"/>
<line x1="252.2" y1="351.3" x2="120.7" y2="351.3" stroke="#eceef0" stroke-width="0.6"/>
<text x="117" y="315.2" font-size="5.7" fill="#939393" text-anchor="end" dominant-baseline="central">15万</text>
<text x="117" y="332" font-size="5.7" fill="#939393" text-anchor="end" dominant-baseline="central">8万</text>
<text x="117" y="346.7" font-size="5.7" fill="#939393" text-anchor="end" dominant-baseline="central">1万</text>
<path d="M149.2 328.5 C152.96 328.84 160.52 331.68 168 330.2 C175.48 328.72 179.22 320.46 186.6 321.1 C193.98 321.74 197.62 327.6 204.9 333.4 C212.18 339.2 215.62 350.36 223 350.1 C230.38 349.84 238.04 335.7 241.8 332.1" fill="none" stroke="#82d16e" stroke-width="1.5" stroke-linejoin="round" stroke-linecap="round"/>
<path d="M130.4 346.5 C134.16 344.06 141.68 341.92 149.2 334.3 C156.72 326.68 160.52 310.06 168 308.4 C175.48 306.74 179.22 321.08 186.6 326 C193.98 330.92 197.62 333.1 204.9 333 C212.18 332.9 215.62 325.14 223 325.5 C230.38 325.86 238.04 332.94 241.8 334.8" fill="none" stroke="#42a2f2" stroke-width="1.5" stroke-linejoin="round" stroke-linecap="round"/>
<text x="130" y="359" font-size="6.3" fill="#939393" text-anchor="end" dominant-baseline="central" transform="rotate(-45 130 359)">2022-01</text>
<text x="148.57" y="359" font-size="6.3" fill="#939393" text-anchor="end" dominant-baseline="central" transform="rotate(-45 148.57 359)">2022-03</text>
<text x="167.14" y="359" font-size="6.3" fill="#939393" text-anchor="end" dominant-baseline="central" transform="rotate(-45 167.14 359)">2022-04</text>
<text x="185.71" y="359" font-size="6.3" fill="#939393" text-anchor="end" dominant-baseline="central" transform="rotate(-45 185.71 359)">2022-05</text>
<text x="204.28" y="359" font-size="6.3" fill="#939393" text-anchor="end" dominant-baseline="central" transform="rotate(-45 204.28 359)">2022-06</text>
<text x="222.85" y="359" font-size="6.3" fill="#939393" text-anchor="end" dominant-baseline="central" transform="rotate(-45 222.85 359)">2022-07</text>
<text x="241.42" y="359" font-size="6.3" fill="#939393" text-anchor="end" dominant-baseline="central" transform="rotate(-45 241.42 359)">2022-08</text>
<text x="254.6" y="334.9" font-size="5.5" fill="#666" text-anchor="start" dominant-baseline="central">运输方式</text>
<rect x="255.2" y="339.8" width="6.1" height="6" fill="#82d16e"/>
<text x="263.6" y="343" font-size="5.5" fill="#666" text-anchor="start" dominant-baseline="central">公路</text>
<rect x="255.2" y="348.9" width="6.1" height="6" fill="#42a2f2"/>
<text x="263.6" y="352.1" font-size="5.5" fill="#666" text-anchor="start" dominant-baseline="central">水路</text>
<line x1="439.6" y1="314" x2="308" y2="314" stroke="#eceef0" stroke-width="0.6"/>
<line x1="439.6" y1="333.9" x2="308" y2="333.9" stroke="#eceef0" stroke-width="0.6"/>
<line x1="439.6" y1="353.6" x2="308" y2="353.6" stroke="#eceef0" stroke-width="0.6"/>
<text x="304" y="313.8" font-size="5.7" fill="#939393" text-anchor="end" dominant-baseline="central">160K</text>
<text x="304" y="333.7" font-size="5.7" fill="#939393" text-anchor="end" dominant-baseline="central">80K</text>
<text x="304" y="349.4" font-size="5.7" fill="#939393" text-anchor="end" dominant-baseline="central">0K</text>
<path d="M332.8 350.6 C336.06 342.16 342.56 312.9 349.1 308.4 C355.64 303.9 359.06 321 365.5 328.1 C371.94 335.2 374.8 343.26 381.3 343.9 C387.8 344.54 391.44 331.64 398 331.3 C404.56 330.96 407.6 338.9 414.1 342.2 C420.6 345.5 427.22 346.68 430.5 347.8" fill="none" stroke="#82d16e" stroke-width="1.5" stroke-linejoin="round" stroke-linecap="round"/>
<path d="M316.3 343 C319.6 341.7 326.24 338.84 332.8 336.5 C339.36 334.16 342.56 333.76 349.1 331.3 C355.64 328.84 359.06 327.82 365.5 324.2 C371.94 320.58 374.8 312.48 381.3 313.2 C387.8 313.92 391.44 322.18 398 327.8 C404.56 333.42 407.6 338.14 414.1 341.3 C420.6 344.46 427.22 343.14 430.5 343.6" fill="none" stroke="#42a2f2" stroke-width="1.5" stroke-linejoin="round" stroke-linecap="round"/>
<text x="316.1" y="360" font-size="6.3" fill="#939393" text-anchor="end" dominant-baseline="central" transform="rotate(-45 316.1 360)">2022-01</text>
<text x="332.4" y="360" font-size="6.3" fill="#939393" text-anchor="end" dominant-baseline="central" transform="rotate(-45 332.4 360)">2022-02</text>
<text x="348.7" y="360" font-size="6.3" fill="#939393" text-anchor="end" dominant-baseline="central" transform="rotate(-45 348.7 360)">2022-03</text>
<text x="365" y="360" font-size="6.3" fill="#939393" text-anchor="end" dominant-baseline="central" transform="rotate(-45 365 360)">2022-04</text>
<text x="381.3" y="360" font-size="6.3" fill="#939393" text-anchor="end" dominant-baseline="central" transform="rotate(-45 381.3 360)">2022-05</text>
<text x="397.6" y="360" font-size="6.3" fill="#939393" text-anchor="end" dominant-baseline="central" transform="rotate(-45 397.6 360)">2022-06</text>
<text x="413.9" y="360" font-size="6.3" fill="#939393" text-anchor="end" dominant-baseline="central" transform="rotate(-45 413.9 360)">2022-07</text>
<text x="430.2" y="360" font-size="6.3" fill="#939393" text-anchor="end" dominant-baseline="central" transform="rotate(-45 430.2 360)">2022-08</text>
<text x="440.7" y="334.9" font-size="5.5" fill="#666" text-anchor="start" dominant-baseline="central">运输方式</text>
<rect x="442" y="339.8" width="6.2" height="6" fill="#82d16e"/>
<text x="450.4" y="343" font-size="5.5" fill="#666" text-anchor="start" dominant-baseline="central">公路</text>
<rect x="442" y="348.9" width="6.2" height="6" fill="#42a2f2"/>
<text x="450.4" y="352.1" font-size="5.5" fill="#666" text-anchor="start" dominant-baseline="central">水路</text>
<line x1="625.8" y1="306.4" x2="506.6" y2="306.4" stroke="#eceef0" stroke-width="0.6"/>
<line x1="625.8" y1="323.1" x2="506.6" y2="323.1" stroke="#eceef0" stroke-width="0.6"/>
<line x1="625.8" y1="339.8" x2="506.6" y2="339.8" stroke="#eceef0" stroke-width="0.6"/>
<text x="503.6" y="309.8" font-size="5.7" fill="#939393" text-anchor="end" dominant-baseline="central">600K</text>
<text x="503.6" y="323.2" font-size="5.7" fill="#939393" text-anchor="end" dominant-baseline="central">400K</text>
<text x="503.6" y="338.7" font-size="5.7" fill="#939393" text-anchor="end" dominant-baseline="central">200K</text>
<path d="M513.3 349.8 C515.66 346.22 520.38 334.6 525.1 331.9 C529.82 329.2 532.16 334.96 536.9 336.3 C541.64 337.64 544.06 340.54 548.8 338.6 C553.54 336.66 555.86 329.88 560.6 326.6 C565.34 323.32 567.76 325.78 572.5 322.2 C577.24 318.62 579.56 310.98 584.3 308.7 C589.04 306.42 591.46 306.16 596.2 310.8 C600.94 315.44 603.26 326.8 608 331.9 C612.74 337 617.52 335.42 619.9 336.3" fill="none" stroke="#82d16e" stroke-width="1.5" stroke-linejoin="round" stroke-linecap="round"/>
<path d="M513.3 335 C515.66 333.5 520.38 327.42 525.1 327.5 C529.82 327.58 532.16 332.7 536.9 335.4 C541.64 338.1 544.06 343.82 548.8 341 C553.54 338.18 555.86 324.94 560.6 321.3 C565.34 317.66 567.76 323.78 572.5 322.8 C577.24 321.82 579.56 315.82 584.3 316.4 C589.04 316.98 591.46 321.38 596.2 325.7 C600.94 330.02 603.26 334.58 608 338 C612.74 341.42 617.52 341.84 619.9 342.8" fill="none" stroke="#42a2f2" stroke-width="1.5" stroke-linejoin="round" stroke-linecap="round"/>
<text x="513" y="359.4" font-size="5.8" fill="#939393" text-anchor="end" dominant-baseline="central" transform="rotate(-45 513 359.4)">2021-11</text>
<text x="524.8" y="359.4" font-size="5.8" fill="#939393" text-anchor="end" dominant-baseline="central" transform="rotate(-45 524.8 359.4)">2021-12</text>
<text x="536.6" y="359.4" font-size="5.8" fill="#939393" text-anchor="end" dominant-baseline="central" transform="rotate(-45 536.6 359.4)">2022-01</text>
<text x="548.4" y="359.4" font-size="5.8" fill="#939393" text-anchor="end" dominant-baseline="central" transform="rotate(-45 548.4 359.4)">2022-02</text>
<text x="560.2" y="359.4" font-size="5.8" fill="#939393" text-anchor="end" dominant-baseline="central" transform="rotate(-45 560.2 359.4)">2022-03</text>
<text x="572" y="359.4" font-size="5.8" fill="#939393" text-anchor="end" dominant-baseline="central" transform="rotate(-45 572 359.4)">2022-04</text>
<text x="583.8" y="359.4" font-size="5.8" fill="#939393" text-anchor="end" dominant-baseline="central" transform="rotate(-45 583.8 359.4)">2022-05</text>
<text x="595.6" y="359.4" font-size="5.8" fill="#939393" text-anchor="end" dominant-baseline="central" transform="rotate(-45 595.6 359.4)">2022-06</text>
<text x="607.4" y="359.4" font-size="5.8" fill="#939393" text-anchor="end" dominant-baseline="central" transform="rotate(-45 607.4 359.4)">2022-07</text>
<text x="619.2" y="359.4" font-size="5.8" fill="#939393" text-anchor="end" dominant-baseline="central" transform="rotate(-45 619.2 359.4)">2022-08</text>
<text x="628.2" y="334.9" font-size="5.5" fill="#666" text-anchor="start" dominant-baseline="central">运输方式</text>
<rect x="629" y="339.8" width="6.6" height="6" fill="#82d16e"/>
<text x="637.8" y="343" font-size="5.5" fill="#666" text-anchor="start" dominant-baseline="central">公路</text>
<rect x="629" y="348.9" width="6.6" height="6" fill="#42a2f2"/>
<text x="637.8" y="352.1" font-size="5.5" fill="#666" text-anchor="start" dominant-baseline="central">水路</text>
<line x1="813.4" y1="308.3" x2="699.1" y2="308.3" stroke="#eceef0" stroke-width="0.6"/>
<line x1="813.4" y1="328.1" x2="699.1" y2="328.1" stroke="#eceef0" stroke-width="0.6"/>
<line x1="813.4" y1="347.8" x2="699.1" y2="347.8" stroke="#eceef0" stroke-width="0.6"/>
<line x1="813.4" y1="367.3" x2="699.1" y2="367.3" stroke="#eceef0" stroke-width="0.6"/>
<text x="694.5" y="311.4" font-size="5.7" fill="#939393" text-anchor="end" dominant-baseline="central">1500K</text>
<text x="694.5" y="328.1" font-size="5.7" fill="#939393" text-anchor="end" dominant-baseline="central">1000K</text>
<text x="694.5" y="347.1" font-size="5.7" fill="#939393" text-anchor="end" dominant-baseline="central">500K</text>
<text x="694.5" y="362.7" font-size="5.7" fill="#939393" text-anchor="end" dominant-baseline="central">0K</text>
<path d="M717.4 366.7 C721.32 366.88 729.38 367.6 737 367.6 C744.62 367.6 744.08 369.4 755.5 366.7 C766.92 364 786.38 356.62 794.1 354.1" fill="none" stroke="#82d16e" stroke-width="1.5" stroke-linejoin="round" stroke-linecap="round"/>
<path d="M717.4 349.2 C725.02 351.84 740.16 361.7 755.5 362.4 C770.84 363.1 786.38 354.64 794.1 352.7" fill="none" stroke="#4f9bf1" stroke-width="1.5" stroke-linejoin="round" stroke-linecap="round"/>
<path d="M717.4 309.1 C725.02 319.4 740.16 355.68 755.5 360.6 C770.84 365.52 786.38 339.08 794.1 333.7" fill="none" stroke="#4cc6fa" stroke-width="1.5" stroke-linejoin="round" stroke-linecap="round"/>
<text x="717.4" y="376.8" font-size="5.4" fill="#939393" text-anchor="middle" dominant-baseline="central">2022-06</text>
<text x="755.5" y="376.8" font-size="5.4" fill="#939393" text-anchor="middle" dominant-baseline="central">2022-07</text>
<text x="794.1" y="376.8" font-size="5.4" fill="#939393" text-anchor="middle" dominant-baseline="central">2022-08</text>
<text x="815.8" y="330" font-size="5.5" fill="#666" text-anchor="start" dominant-baseline="central">运输方式</text>
<rect x="816.4" y="334.9" width="6.1" height="6" fill="#82d16e"/>
<text x="824.8" y="338.1" font-size="5.5" fill="#666" text-anchor="start" dominant-baseline="central">公路</text>
<rect x="816.4" y="344.7" width="6.1" height="6" fill="#4f9bf1"/>
<text x="824.8" y="347.9" font-size="5.5" fill="#666" text-anchor="start" dominant-baseline="central">水路</text>
<rect x="816.4" y="354" width="6.1" height="6" fill="#4cc6fa"/>
<text x="824.8" y="357.2" font-size="5.5" fill="#666" text-anchor="start" dominant-baseline="central">铁路</text>
<line x1="197.6" y1="400" x2="197.6" y2="553.5" stroke="#eef0f2" stroke-width="0.6"/>
<text x="197.6" y="559.2" font-size="5.7" fill="#868686" text-anchor="start" dominant-baseline="central">0K</text>
<line x1="250.2" y1="400" x2="250.2" y2="553.5" stroke="#eef0f2" stroke-width="0.6"/>
<text x="250.2" y="559.2" font-size="5.7" fill="#868686" text-anchor="middle" dominant-baseline="central">50K</text>
<line x1="302.8" y1="400" x2="302.8" y2="553.5" stroke="#eef0f2" stroke-width="0.6"/>
<text x="302.8" y="559.2" font-size="5.7" fill="#868686" text-anchor="middle" dominant-baseline="central">100K</text>
<line x1="355.4" y1="400" x2="355.4" y2="553.5" stroke="#eef0f2" stroke-width="0.6"/>
<text x="355.4" y="559.2" font-size="5.7" fill="#868686" text-anchor="middle" dominant-baseline="central">150K</text>
<line x1="408" y1="400" x2="408" y2="553.5" stroke="#eef0f2" stroke-width="0.6"/>
<text x="408" y="559.2" font-size="5.7" fill="#868686" text-anchor="middle" dominant-baseline="central">200K</text>
<line x1="460.6" y1="400" x2="460.6" y2="553.5" stroke="#eef0f2" stroke-width="0.6"/>
<text x="460.6" y="559.2" font-size="5.7" fill="#868686" text-anchor="middle" dominant-baseline="central">250K</text>
<line x1="513.2" y1="400" x2="513.2" y2="553.5" stroke="#eef0f2" stroke-width="0.6"/>
<text x="513.2" y="559.2" font-size="5.7" fill="#868686" text-anchor="middle" dominant-baseline="central">300K</text>
<rect x="197.6" y="400.95" width="332.7" height="4.7" fill="#6097fa"/>
<text x="194.2" y="403.4" font-size="6" fill="#666" text-anchor="end" dominant-baseline="central">福建闽晨久盛贸易有限公司</text>
<rect x="197.6" y="408.62" width="129" height="4.7" fill="#6097fa"/>
<text x="194.2" y="411.07" font-size="6" fill="#666" text-anchor="end" dominant-baseline="central">山西朔兴煤产运销有限公司</text>
<rect x="197.6" y="416.3" width="90.3" height="4.7" fill="#6097fa"/>
<text x="194.2" y="418.75" font-size="6" fill="#666" text-anchor="end" dominant-baseline="central">微山县兴晟煤炭销售有限公司</text>
<rect x="197.6" y="423.97" width="87.7" height="4.7" fill="#6097fa"/>
<text x="194.2" y="426.42" font-size="6" fill="#666" text-anchor="end" dominant-baseline="central">安徽昊源化工集团有限公司</text>
<rect x="197.6" y="431.65" width="83.7" height="4.7" fill="#6097fa"/>
<rect x="197.6" y="439.32" width="49" height="4.7" fill="#6097fa"/>
<rect x="246.6" y="439.32" width="30.3" height="4.7" fill="#f54c5f"/>
<text x="194.2" y="441.77" font-size="6" fill="#666" text-anchor="end" dominant-baseline="central">山东浩文能源有限责任公司</text>
<rect x="197.6" y="446.99" width="78.3" height="4.7" fill="#6097fa"/>
<text x="194.2" y="449.44" font-size="6" fill="#666" text-anchor="end" dominant-baseline="central">江苏新动力（沭阳）热电有限公司</text>
<rect x="197.6" y="454.67" width="76.1" height="4.7" fill="#6097fa"/>
<text x="194.2" y="457.12" font-size="6" fill="#666" text-anchor="end" dominant-baseline="central">宁波港顺物资有限公司</text>
<rect x="197.6" y="462.34" width="75.7" height="4.7" fill="#6097fa"/>
<text x="194.2" y="464.79" font-size="6" fill="#666" text-anchor="end" dominant-baseline="central">山东鸿顺肥业科技有限公司</text>
<rect x="197.6" y="470.02" width="66.3" height="4.7" fill="#6097fa"/>
<text x="194.2" y="472.47" font-size="6" fill="#666" text-anchor="end" dominant-baseline="central">济南山水筑成建材有限公司</text>
<rect x="197.6" y="477.69" width="55.6" height="4.7" fill="#6097fa"/>
<text x="194.2" y="480.14" font-size="6" fill="#666" text-anchor="end" dominant-baseline="central">亿利洁能工业制剂（宿迁）有限公司</text>
<rect x="197.6" y="485.36" width="54.3" height="4.7" fill="#6097fa"/>
<text x="194.2" y="487.81" font-size="6" fill="#666" text-anchor="end" dominant-baseline="central">国家能源集团宿迁发电有限公司</text>
<rect x="197.6" y="493.04" width="51.6" height="4.7" fill="#6097fa"/>
<text x="194.2" y="495.49" font-size="6" fill="#666" text-anchor="end" dominant-baseline="central">济宁港航太平港有限公司</text>
<rect x="197.6" y="500.71" width="45.8" height="4.7" fill="#6097fa"/>
<text x="194.2" y="503.16" font-size="6" fill="#666" text-anchor="end" dominant-baseline="central">福建台塑工贸有限公司</text>
<rect x="197.6" y="508.39" width="33.8" height="4.7" fill="#6097fa"/>
<text x="194.2" y="510.84" font-size="6" fill="#666" text-anchor="end" dominant-baseline="central">沧州临港新区汇通物资有限公司</text>
<rect x="197.6" y="516.06" width="31.6" height="4.7" fill="#6097fa"/>
<text x="194.2" y="518.51" font-size="6" fill="#666" text-anchor="end" dominant-baseline="central">曹金正立信</text>
<rect x="197.6" y="523.73" width="31.2" height="4.7" fill="#6097fa"/>
<text x="194.2" y="526.18" font-size="6" fill="#666" text-anchor="end" dominant-baseline="central">山东建润能源科技有限公司</text>
<rect x="197.6" y="531.41" width="29.8" height="4.7" fill="#6097fa"/>
<text x="194.2" y="533.86" font-size="6" fill="#666" text-anchor="end" dominant-baseline="central">济宁港航梁泉置业物贸有限公司</text>
<rect x="197.6" y="539.08" width="23.1" height="4.7" fill="#6097fa"/>
<rect x="220.7" y="539.08" width="5.8" height="4.7" fill="#45c8f4"/>
<rect x="226.5" y="539.08" width="14.7" height="4.7" fill="#ffae9a"/>
<text x="194.2" y="541.53" font-size="6" fill="#666" text-anchor="end" dominant-baseline="central">中交织桥（山东）国际物贸有限公司</text>
<rect x="197.6" y="546.76" width="24.9" height="4.7" fill="#6097fa"/>
<text x="194.2" y="549.21" font-size="6" fill="#666" text-anchor="end" dominant-baseline="central">安徽电力燃料有限责任公司</text>
<text x="535.4" y="464.4" font-size="5.7" fill="#666" text-anchor="start" dominant-baseline="central">港口名称</text>
<rect x="536.5" y="469" width="6" height="6" fill="#6097fa"/>
<text x="545.5" y="472.2" font-size="5.6" fill="#666" text-anchor="start" dominant-baseline="central">梁山港</text>
<rect x="536.5" y="478.55" width="6" height="6" fill="#45c8f4"/>
<text x="545.5" y="481.75" font-size="5.6" fill="#666" text-anchor="start" dominant-baseline="central">龙拱港</text>
<rect x="536.5" y="488.1" width="6" height="6" fill="#f54c5f"/>
<text x="545.5" y="491.3" font-size="5.6" fill="#666" text-anchor="start" dominant-baseline="central">太平港</text>
<rect x="536.5" y="497.65" width="6" height="6" fill="#ffae9a"/>
<text x="545.5" y="500.85" font-size="5.6" fill="#666" text-anchor="start" dominant-baseline="central">郓进港</text>
<text x="585.6" y="404.8" font-size="5.6" fill="#868686" text-anchor="end" dominant-baseline="central">80%</text>
<text x="585.6" y="442.3" font-size="5.6" fill="#868686" text-anchor="end" dominant-baseline="central">60%</text>
<text x="585.6" y="480" font-size="5.6" fill="#868686" text-anchor="end" dominant-baseline="central">40%</text>
<text x="585.6" y="516.2" font-size="5.6" fill="#868686" text-anchor="end" dominant-baseline="central">20%</text>
<text x="585.6" y="549.2" font-size="5.6" fill="#868686" text-anchor="end" dominant-baseline="central">0%</text>
<line x1="774" y1="403.6" x2="592" y2="403.6" stroke="#f0f2f3" stroke-width="0.6"/>
<line x1="774" y1="441.1" x2="592" y2="441.1" stroke="#f0f2f3" stroke-width="0.6"/>
<line x1="774" y1="478.6" x2="592" y2="478.6" stroke="#f0f2f3" stroke-width="0.6"/>
<line x1="774" y1="516.1" x2="592" y2="516.1" stroke="#f0f2f3" stroke-width="0.6"/>
<line x1="774" y1="553.6" x2="592" y2="553.6" stroke="#f0f2f3" stroke-width="0.6"/>
<rect x="598.1" y="401.4" width="31" height="5.25" fill="#8c1a3e"/>
<rect x="598.1" y="406.5" width="31" height="6.65" fill="#7edc8e"/>
<rect x="598.1" y="413" width="31" height="2.65" fill="#3a6ecb"/>
<rect x="598.1" y="415.5" width="31" height="2.35" fill="#2a6c6c"/>
<rect x="598.1" y="417.7" width="31" height="4.45" fill="#28288e"/>
<rect x="598.1" y="422" width="31" height="12.35" fill="#c1d3ba"/>
<rect x="598.1" y="434.2" width="31" height="2.55" fill="#2fb597"/>
<rect x="598.1" y="436.6" width="31" height="3.05" fill="#5c4a1c"/>
<rect x="598.1" y="439.5" width="31" height="2.75" fill="#8a5a1c"/>
<rect x="598.1" y="442.1" width="31" height="6.85" fill="#a14d1c"/>
<rect x="598.1" y="448.8" width="31" height="2.45" fill="#b2325a"/>
<rect x="598.1" y="451.1" width="31" height="3.85" fill="#4a8eea"/>
<rect x="598.1" y="454.8" width="31" height="3.95" fill="#a17b53"/>
<rect x="598.1" y="458.6" width="31" height="12.25" fill="#8148c9"/>
<rect x="598.1" y="470.7" width="31" height="7.35" fill="#84cdea"/>
<rect x="598.1" y="477.9" width="31" height="5.05" fill="#8c97f1"/>
<rect x="598.1" y="482.8" width="31" height="17.55" fill="#646ffa"/>
<rect x="598.1" y="500.2" width="31" height="4.05" fill="#b497ab"/>
<rect x="598.1" y="504.1" width="31" height="2.65" fill="#5ba1a1"/>
<rect x="598.1" y="506.6" width="31" height="4.45" fill="#3333c9"/>
<rect x="598.1" y="510.9" width="31" height="1.95" fill="#e6833d"/>
<rect x="598.1" y="512.7" width="31" height="5.05" fill="#e7d3bf"/>
<rect x="598.1" y="517.6" width="31" height="10.15" fill="#4683bf"/>
<rect x="598.1" y="527.6" width="31" height="8.75" fill="#f0973d"/>
<rect x="598.1" y="536.2" width="31" height="2.25" fill="#1e8383"/>
<rect x="598.1" y="538.3" width="31" height="2.55" fill="#29abc9"/>
<rect x="598.1" y="540.7" width="31" height="1.75" fill="#f2f2f8"/>
<rect x="598.1" y="542.3" width="31" height="1.65" fill="#7929a1"/>
<rect x="598.1" y="543.8" width="31" height="2.85" fill="#dd79a1"/>
<rect x="598.1" y="546.5" width="31" height="7.15" fill="#5b97f1"/>
<rect x="644.8" y="548.4" width="31" height="1.35" fill="#a2dca2"/>
<rect x="644.8" y="549.6" width="31" height="1.95" fill="#28786e"/>
<rect x="644.8" y="551.4" width="31" height="2.25" fill="#e0608c"/>
<rect x="692" y="545.3" width="31" height="2.25" fill="#4683bf"/>
<rect x="692" y="547.4" width="31" height="6.25" fill="#86d4ca"/>
<rect x="739" y="533.4" width="31.2" height="0.95" fill="#7edc8e"/>
<rect x="739" y="534.2" width="31.2" height="7.25" fill="#9a7cdc"/>
<rect x="739" y="541.3" width="31.2" height="2.65" fill="#5c6e20"/>
<rect x="739" y="543.8" width="31.2" height="0.95" fill="#7a4a2a"/>
<rect x="739" y="544.6" width="31.2" height="2.75" fill="#d4a4b6"/>
<rect x="739" y="547.2" width="31.2" height="2.75" fill="#b0708e"/>
<rect x="739" y="549.8" width="31.2" height="2.35" fill="#2a9a94"/>
<rect x="739" y="552" width="31.2" height="1.65" fill="#ffb49e"/>
<text x="613.6" y="560.2" font-size="5.8" fill="#666" text-anchor="middle" dominant-baseline="central">梁山港</text>
<text x="660.3" y="560.2" font-size="5.8" fill="#666" text-anchor="middle" dominant-baseline="central">龙拱港</text>
<text x="707.5" y="560.2" font-size="5.8" fill="#666" text-anchor="middle" dominant-baseline="central">太平港</text>
<text x="754.6" y="560.2" font-size="5.8" fill="#666" text-anchor="middle" dominant-baseline="central">跃进港</text>
<text x="780.6" y="407.2" font-size="5.6" fill="#666" text-anchor="start" dominant-baseline="central">货名</text>
<rect x="780.8" y="412" width="6.2" height="6.2" fill="#c8592a"/>
<text x="789.4" y="415.3" font-size="5.6" fill="#666" text-anchor="start" dominant-baseline="central">原煤2#</text>
<rect x="780.8" y="421.47" width="6.2" height="6.2" fill="#a1143d"/>
<text x="789.4" y="424.77" font-size="5.6" fill="#666" text-anchor="start" dominant-baseline="central">原煤1#</text>
<rect x="780.8" y="430.95" width="6.2" height="6.2" fill="#7edc8e"/>
<text x="789.4" y="434.25" font-size="5.6" fill="#666" text-anchor="start" dominant-baseline="central">原煤</text>
<rect x="780.8" y="440.42" width="6.2" height="6.2" fill="#79c934"/>
<text x="789.4" y="443.72" font-size="5.6" fill="#666" text-anchor="start" dominant-baseline="central">优混2#</text>
<rect x="780.8" y="449.9" width="6.2" height="6.2" fill="#2a62b6"/>
<text x="789.4" y="453.2" font-size="5.6" fill="#666" text-anchor="start" dominant-baseline="central">优末</text>
<rect x="780.8" y="459.37" width="6.2" height="6.2" fill="#a13365"/>
<text x="789.4" y="462.67" font-size="5.6" fill="#666" text-anchor="start" dominant-baseline="central">优混</text>
<rect x="780.8" y="468.84" width="6.2" height="6.2" fill="#146552"/>
<text x="789.4" y="472.14" font-size="5.6" fill="#666" text-anchor="start" dominant-baseline="central">洗混煤（精煤制成）</text>
<rect x="780.8" y="478.32" width="6.2" height="6.2" fill="#977adc"/>
<text x="789.4" y="481.62" font-size="5.6" fill="#666" text-anchor="start" dominant-baseline="central">普配煤</text>
<rect x="780.8" y="487.79" width="6.2" height="6.2" fill="#a2dca2"/>
<text x="789.4" y="491.09" font-size="5.6" fill="#666" text-anchor="start" dominant-baseline="central">石子</text>
<rect x="780.8" y="497.27" width="6.2" height="6.2" fill="#5c6e20"/>
<text x="789.4" y="500.57" font-size="5.6" fill="#666" text-anchor="start" dominant-baseline="central">石油焦</text>
<rect x="780.8" y="506.74" width="6.2" height="6.2" fill="#281e97"/>
<text x="789.4" y="510.04" font-size="5.6" fill="#666" text-anchor="start" dominant-baseline="central">神混5500</text>
<rect x="780.8" y="516.21" width="6.2" height="6.2" fill="#c1d3ba"/>
<text x="789.4" y="519.51" font-size="5.6" fill="#666" text-anchor="start" dominant-baseline="central">神混5000</text>
<rect x="780.8" y="525.69" width="6.2" height="6.2" fill="#29b597"/>
<text x="789.4" y="528.99" font-size="5.6" fill="#666" text-anchor="start" dominant-baseline="central">山煤</text>
<rect x="780.8" y="535.16" width="6.2" height="6.2" fill="#4766d3"/>
<text x="789.4" y="538.46" font-size="5.6" fill="#666" text-anchor="start" dominant-baseline="central">气化煤</text>
<rect x="780.8" y="544.64" width="6.2" height="6.2" fill="#65461f"/>
<text x="789.4" y="547.94" font-size="5.6" fill="#666" text-anchor="start" dominant-baseline="central">户外煤</text>
<rect x="780.8" y="554.11" width="6.2" height="6.2" fill="#29796f"/>
<text x="789.4" y="557.41" font-size="5.6" fill="#666" text-anchor="start" dominant-baseline="central">木片</text>
<path d="M839.4 557.6 L837.7 556 L836 557.6" fill="none" stroke="#b0b0b0" stroke-width="0.7" stroke-linejoin="round" stroke-linecap="round"/>
<path d="M839.4 560.2 L837.7 561.8 L836 560.2" fill="none" stroke="#b0b0b0" stroke-width="0.7" stroke-linejoin="round" stroke-linecap="round"/>
</svg>
</div>
</body>
</html>
